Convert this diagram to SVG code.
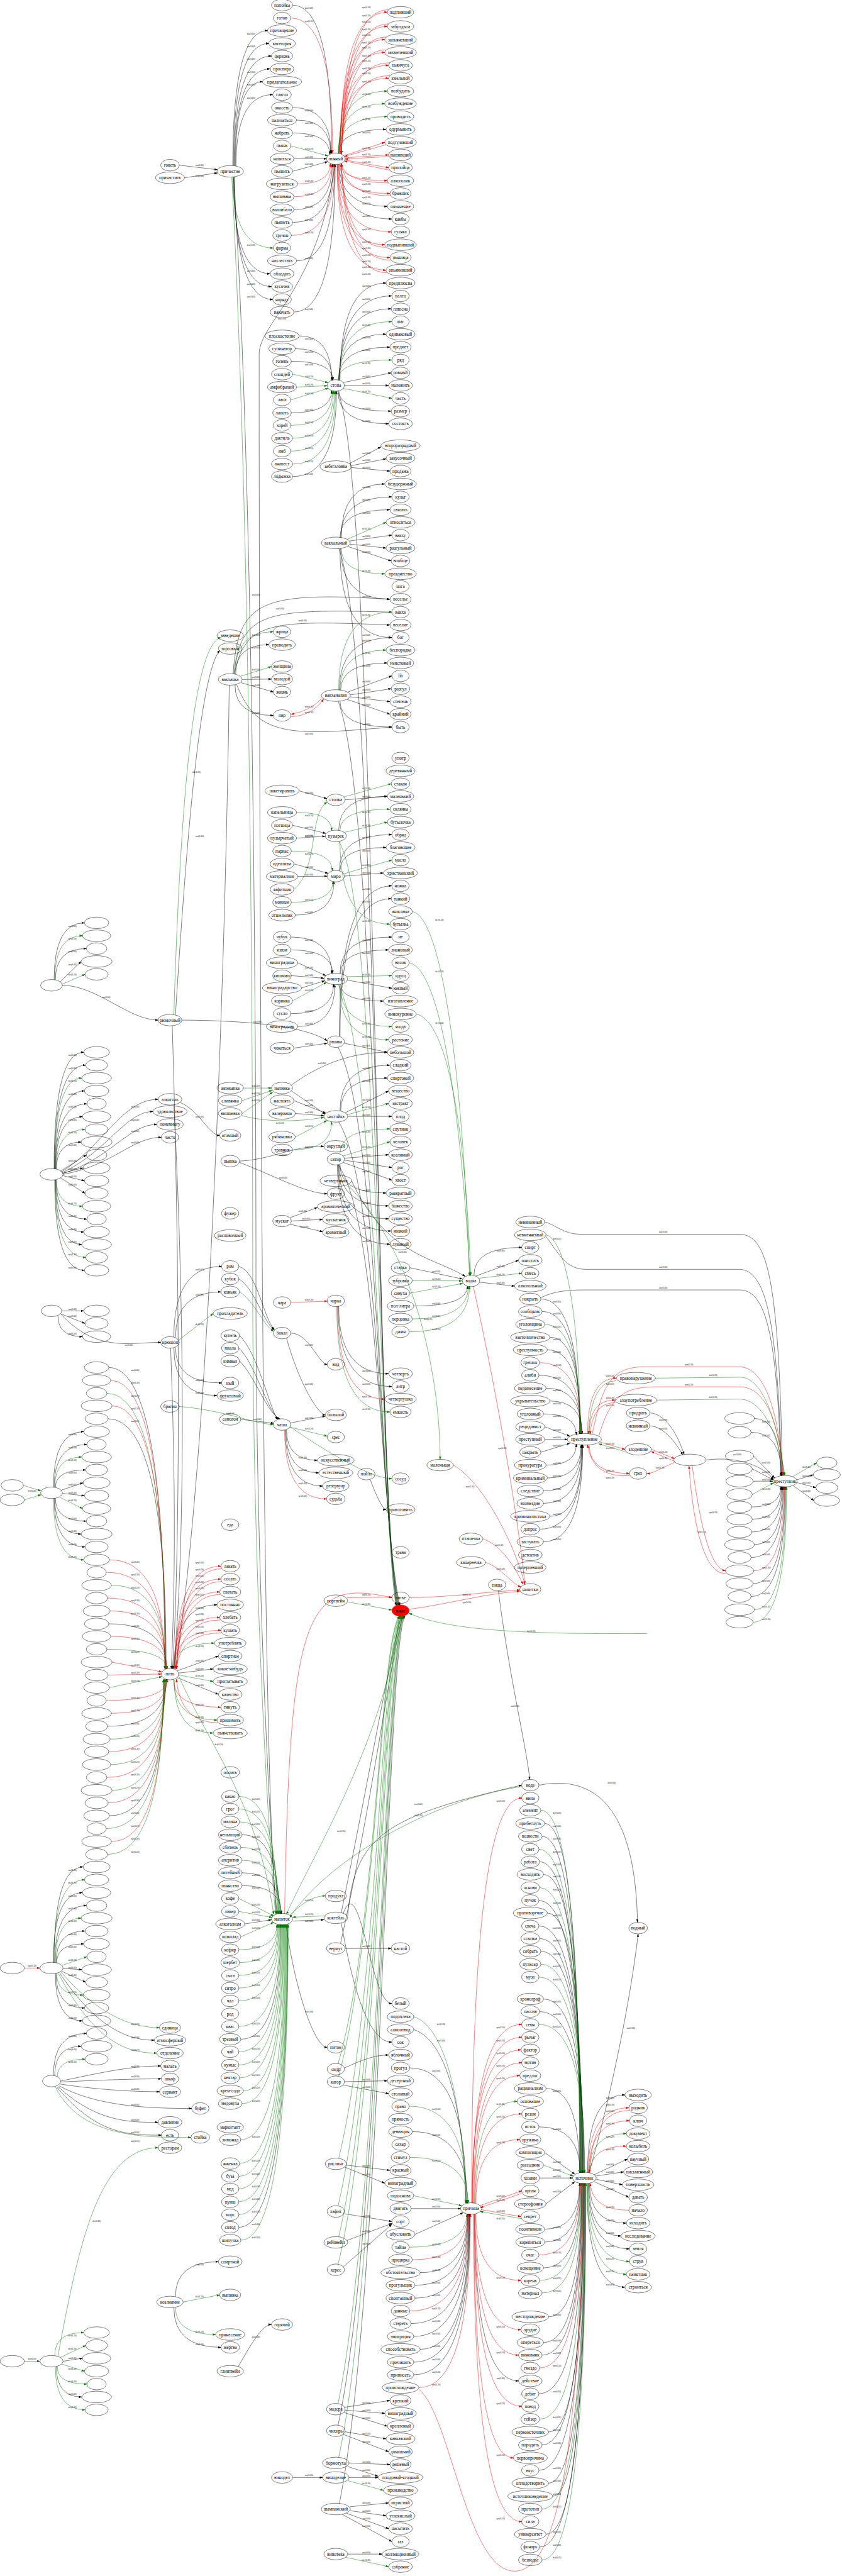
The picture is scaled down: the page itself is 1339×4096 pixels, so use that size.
<svg xmlns="http://www.w3.org/2000/svg" width="1339" height="4096" viewBox="0 0 1339 4096">
<style>
text{font-family:"Liberation Serif","DejaVu Serif",serif}
#nodes ellipse{fill:none;stroke:#000;stroke-width:1}
#nodes text{font-size:14px;text-anchor:middle;fill:#000}
#edges path{fill:none;stroke-width:1}
.k path{stroke:#000;marker-end:url(#mk)}
.r path{stroke:#f00;marker-end:url(#mr)}
.g path{stroke:#008000;marker-end:url(#mg)}
.lb text{font-size:7px;text-anchor:middle;fill:#000}
</style>
<defs>
<marker id="mk" viewBox="0 0 10 7" refX="9" refY="3.5" markerWidth="10" markerHeight="7" markerUnits="userSpaceOnUse" orient="auto"><path d="M0,0L10,3.5L0,7z" fill="#000"/></marker>
<marker id="mr" viewBox="0 0 10 7" refX="9" refY="3.5" markerWidth="10" markerHeight="7" markerUnits="userSpaceOnUse" orient="auto"><path d="M0,0L10,3.5L0,7z" fill="#f00"/></marker>
<marker id="mg" viewBox="0 0 10 7" refX="9" refY="3.5" markerWidth="10" markerHeight="7" markerUnits="userSpaceOnUse" orient="auto"><path d="M0,0L10,3.5L0,7z" fill="#008000"/></marker>
</defs>
<rect width="1339" height="4096" fill="#fff"/>
<g transform="scale(0.512)">
<g id="edges">
<g class="k">
<path d="M557,513L675,527"/><path d="M573,552L675,537"/>
<path d="M723,514Q723,95 831,95"/><path d="M725,514Q725,135 835,135"/><path d="M727,514Q727,174 843,174"/><path d="M729,515Q729,214 839,214"/><path d="M731,515Q731,254 815,254"/><path d="M733,516Q733,294 847,294"/>
<path d="M725,550Q725,850 839,850"/><path d="M727,549Q727,890 843,890"/><path d="M729,549Q729,930 847,930"/>
<path d="M909,16Q1030,16 1030,476"/><path d="M909,334Q1028,334 1028,476"/><path d="M921,373Q1027,373 1027,477"/><path d="M909,413Q1024,413 1024,479"/><path d="M913,493L1014,493"/><path d="M909,532L1018,502"/><path d="M913,651Q1032,651 1032,510"/><path d="M909,691Q1035,691 1035,511"/><path d="M921,810Q1039,810 1039,511"/><path d="M913,969Q1041,969 1041,511"/>
<path d="M1052,477Q1052,402 1199,402"/><path d="M1054,510Q1054,641 1203,641"/><path d="M1052,510Q1052,680 1217,680"/>
<path d="M929,1043Q1030,1043 1030,1181"/><path d="M917,1083Q1032,1083 1032,1181"/><path d="M905,1122Q1034,1122 1034,1181"/><path d="M905,1282Q1030,1282 1030,1213"/><path d="M909,1480Q1045,1480 1045,1215"/>
<path d="M1056,1181Q1056,879 1199,879"/><path d="M1055,1181Q1055,919 1217,919"/><path d="M1054,1181Q1054,959 1215,959"/><path d="M1052,1181Q1052,1038 1199,1038"/><path d="M1051,1181Q1051,1078 1211,1078"/><path d="M1066,1188L1215,1158"/><path d="M1070,1197L1207,1197"/><path d="M1052,1213Q1052,1277 1215,1277"/><path d="M1050,1214Q1050,1316 1207,1316"/>
<path d="M1085,1440L1183,1388"/><path d="M1092,1446L1199,1425"/><path d="M1092,1452L1211,1463"/>
<path d="M1060,1670Q1060,1503 1195,1503"/><path d="M1058,1670Q1058,1543 1217,1543"/><path d="M1056,1670Q1056,1583 1211,1583"/><path d="M1086,1680L1217,1662"/><path d="M1088,1690L1199,1702"/><path d="M1080,1697L1215,1742"/><path d="M1058,1703Q1058,1861 1211,1861"/><path d="M1056,1703Q1056,1980 1217,1980"/>
<path d="M732,2093Q732,2002 835,2002"/><path d="M752,2110L843,2109"/><path d="M748,2120L849,2149"/><path d="M730,2127Q730,2222 849,2222"/>
<path d="M724,2093C740,1870 800,1835 1211,1861"/><path d="M726,2093C750,1900 820,1890 1217,1901"/><path d="M728,2093C760,1930 840,1925 1211,1941"/><path d="M735,2126C800,2290 900,2285 1217,2258"/>
<path d="M1054,2143Q1054,1980 1217,1980"/><path d="M1058,2144Q1058,2059 1203,2059"/><path d="M1078,2150L1217,2099"/><path d="M1088,2158L1215,2139"/><path d="M1088,2164L1211,2179"/><path d="M1078,2172L1211,2218"/><path d="M1056,2177Q1056,2258 1217,2258"/>
<path d="M929,2456L1015,2480"/><path d="M1072,2484L1203,2473"/>
<path d="M909,2563L1012,2588"/><path d="M921,2603L1010,2597"/><path d="M1052,2579Q1052,2473 1203,2473"/>
<path d="M913,2683L1019,2712"/><path d="M925,2722L1016,2721"/><path d="M917,2842Q1037,2842 1037,2738"/><path d="M1054,2704Q1054,2592 1217,2592"/><path d="M1056,2704Q1056,2632 1199,2632"/><path d="M1070,2721L1191,2711"/>
<path d="M903,2910Q1030,2910 1030,3023"/><path d="M903,2950Q1033,2950 1033,3023"/><path d="M925,2990L1012,3030"/><path d="M905,3030L1006,3038"/><path d="M937,3068L1008,3046"/><path d="M903,3148Q1036,3148 1036,3057"/><path d="M925,3188Q1040,3188 1040,3058"/><path d="M1056,3023Q1056,2910 1217,2910"/><path d="M1058,3023Q1058,2950 1207,2950"/><path d="M1080,3044L1217,3069"/><path d="M1058,3057Q1058,3109 1191,3109"/>
<path d="M913,3255L1016,3240"/><path d="M1070,3240L1203,3268"/><path d="M1054,3218Q1054,2751 1217,2751"/><path d="M1056,3218Q1056,2791 1215,2791"/><path d="M565,3168C800,3170 950,3190 1016,3232"/>
<path d="M905,3388L1010,3460"/><path d="M905,3370C1000,3300 1100,3268 1203,3268"/>
<path d="M913,3418L1012,3457"/><path d="M917,3458L1006,3465"/><path d="M1056,3450Q1056,3308 1211,3308"/><path d="M1058,3450Q1058,3348 1203,3348"/><path d="M1072,3456L1207,3388"/><path d="M1080,3467L1217,3467"/>
<path d="M1070,3597L1207,3586"/><path d="M1070,3603L1217,3626"/><path d="M1066,3610L1217,3665"/><path d="M1056,3617Q1056,3705 1199,3705"/><path d="M1054,3617Q1054,3745 1207,3745"/><path d="M1052,3617Q1052,3785 1207,3785"/><path d="M1050,3617Q1050,3823 1215,3823"/><path d="M1048,3617Q1048,3864 1211,3864"/>
<path d="M900,3782L986,3750"/><path d="M905,3792L1002,3787"/><path d="M900,3802L1002,3825"/>
<path d="M744,3606C850,3600 900,3560 1006,3560"/><path d="M744,3610C850,3650 950,3707 1016,3707"/>
<path d="M1273,3937L1436,3972"/><path d="M1285,4056Q1452,4056 1452,3995"/><path d="M1472,3961Q1472,3874 1620,3874"/><path d="M1478,3963L1610,3914"/><path d="M1489,3982L1598,3994"/><path d="M1092,3667C1200,3900 1350,3905 1445,3964"/>
<path d="M1052,4057Q1052,4266 1207,4266"/><path d="M1050,4057Q1050,4306 1217,4306"/>
<path d="M742,3933C800,3950 820,4100 852,4128"/><path d="M742,3972C790,4000 820,4110 852,4130"/><path d="M903,4140C960,4140 990,4237 1016,4237"/><path d="M890,4156C930,4300 990,4394 1010,4394"/>
<path d="M744,4148C800,4200 840,4380 862,4408"/><path d="M742,4187C790,4230 830,4380 866,4407"/><path d="M744,4227C790,4270 830,4390 870,4407"/><path d="M748,4408L850,4420"/><path d="M903,4419L1010,4398"/><path d="M890,4440Q890,4535 986,4535"/><path d="M888,4441Q888,4574 990,4574"/><path d="M886,4441Q886,4615 1002,4615"/>
<path d="M540,4152Q540,3933 688,3933"/><path d="M545,4154Q545,4012 686,4012"/><path d="M545,4185Q545,4295 688,4295"/><path d="M540,4186Q540,4334 674,4334"/>
<path d="M560,3424C620,3450 650,3526 682,3526"/>
<path d="M1680,4034Q1800,4034 1800,4453"/><path d="M1684,4073Q1801,4073 1801,4453"/><path d="M1708,4153Q1803,4153 1803,4453"/><path d="M1700,4192Q1804,4192 1804,4453"/><path d="M1674,4271Q1806,4271 1806,4453"/><path d="M1696,4311Q1807,4311 1807,4453"/><path d="M1708,4351Q1808,4351 1808,4453"/><path d="M1688,4391Q1790,4391 1790,4456"/><path d="M1692,4431L1770,4460"/><path d="M1692,4470L1762,4470"/><path d="M1680,4510L1770,4482"/><path d="M1696,4550Q1790,4550 1790,4485"/><path d="M1700,4590Q1805,4590 1805,4487"/><path d="M1688,4630Q1806,4630 1806,4487"/><path d="M1688,4669Q1807,4669 1807,4487"/><path d="M1708,4709Q1808,4709 1808,4487"/><path d="M1676,4749Q1809,4749 1809,4487"/><path d="M1688,4788Q1810,4788 1810,4487"/>
<path d="M542,5182Q542,4984 674,4984"/><path d="M550,5189L678,5143"/><path d="M555,5196L662,5183"/><path d="M550,5210L678,5262"/>
<path d="M752,5698Q866,5698 866,5943"/><path d="M752,5816Q872,5816 872,5943"/><path d="M752,5856Q874,5856 874,5943"/><path d="M760,5975L843,5962"/><path d="M748,6333Q872,6333 872,5977"/><path d="M742,6917Q894,6917 894,5977"/><path d="M909,5966L1006,5962"/><path d="M888,5977C920,6200 980,6358 1016,6358"/><path d="M1072,6051L1215,6051"/>
<path d="M1548,4940C1580,5200 1640,5450 1645,5526"/><path d="M1674,5544C1900,5500 1975,5700 1980,5970"/>
<path d="M1049,1215C1170,1500 1165,4600 1230,4986"/><path d="M1052,1703C1172,2000 1170,4600 1232,4986"/><path d="M1050,2177C1175,2500 1172,4600 1234,4986"/><path d="M1050,3252C1180,3500 1177,4700 1238,4986"/><path d="M1052,3484C1182,3700 1178,4700 1240,4986"/><path d="M1050,3617C1180,3800 1180,4700 1242,4986"/><path d="M1050,7532C1186,6900 1196,5100 1254,5019"/><path d="M1054,7775C1190,7100 1200,5100 1258,5019"/><path d="M1060,5940C1150,5500 1200,5200 1246,5019"/><path d="M1058,6034C1155,5600 1205,5200 1250,5019"/>
<path d="M1070,6465L1203,6462"/><path d="M1064,6475L1207,6502"/><path d="M1076,6724L1211,6740"/><path d="M1070,6730L1195,6780"/><path d="M1070,6875L1217,6899"/><path d="M1078,6958L1217,6905"/><path d="M1066,7040L1217,6908"/><path d="M1070,7476L1211,7455"/><path d="M1072,7485L1195,7495"/><path d="M1068,7492L1203,7535"/><path d="M1072,7552L1199,7574"/><path d="M1066,7560L1207,7614"/><path d="M1084,7649L1211,7654"/><path d="M1080,7660L1174,7690"/><path d="M1084,7694L1174,7694"/><path d="M909,7694L1002,7694"/><path d="M1086,7785L1207,7773"/><path d="M1086,7797L1199,7813"/><path d="M1076,7805L1207,7853"/><path d="M1062,7808L1217,7893"/><path d="M1080,7932L1187,7932"/>
<path d="M1273,6422Q1448,6422 1448,6842"/><path d="M1281,6620Q1452,6620 1452,6842"/><path d="M1277,6859L1430,6859"/><path d="M1289,6939L1438,6872"/><path d="M1305,7058Q1452,7058 1452,6876"/><path d="M1289,7097Q1453,7097 1453,6876"/><path d="M1289,7137Q1454,7137 1454,6876"/><path d="M1277,7216Q1456,7216 1456,6876"/><path d="M1285,7256Q1457,7256 1457,6876"/><path d="M1305,7296Q1458,7296 1458,6876"/><path d="M1285,7336Q1459,7336 1459,6876"/><path d="M1285,7375Q1460,7375 1460,6876"/><path d="M1474,6876Q1474,7394 1610,7394"/>
<path d="M1696,6486Q1800,6486 1800,6747"/><path d="M1674,6605Q1802,6605 1802,6747"/><path d="M1692,6685L1785,6752"/><path d="M1676,6764L1778,6764"/><path d="M1696,6844L1785,6776"/><path d="M1692,6923Q1800,6923 1800,6781"/><path d="M1692,6963Q1801,6963 1801,6781"/><path d="M1688,7043Q1803,7043 1803,6781"/><path d="M1704,7195Q1806,7195 1806,6781"/><path d="M1688,7275Q1807,7275 1807,6781"/><path d="M1684,7314Q1808,7314 1808,6781"/><path d="M1674,7434Q1810,7434 1810,6781"/><path d="M1704,7553Q1812,7553 1812,6781"/><path d="M1684,7593Q1813,7593 1813,6781"/><path d="M1674,7672Q1814,7672 1814,6781"/><path d="M1704,7712Q1815,7712 1815,6781"/><path d="M1717,7752Q1816,7752 1816,6781"/><path d="M1696,7870Q1818,7870 1818,6781"/><path d="M1676,7910Q1819,7910 1819,6781"/>
<path d="M1692,5663Q1801,5663 1801,6747"/><path d="M1684,5703Q1802,5703 1802,6747"/><path d="M1676,5782Q1804,5782 1804,6747"/><path d="M1688,5821Q1805,5821 1805,6747"/><path d="M1674,5902Q1807,5902 1807,6747"/><path d="M1700,5941Q1808,5941 1808,6747"/><path d="M1674,5981Q1809,5981 1809,6747"/><path d="M1676,6020Q1810,6020 1810,6747"/><path d="M1680,6060Q1811,6060 1811,6747"/><path d="M1688,6208Q1814,6208 1814,6747"/><path d="M1676,6247Q1815,6247 1815,6747"/>
<path d="M1825,6747Q1825,6506 1941,6506"/><path d="M1845,6754L1949,6705"/><path d="M1850,6758L1937,6745"/><path d="M1852,6768L1933,6785"/><path d="M1845,6775L1953,6824"/><path d="M1831,6781Q1831,6904 1945,6904"/><path d="M1829,6781Q1829,6944 1929,6944"/><path d="M1827,6781Q1827,6984 1955,6984"/><path d="M1823,6781Q1823,7103 1941,7103"/>
<path d="M545,7132Q545,7024 678,7024"/><path d="M540,7166Q540,7290 686,7290"/><path d="M740,7350C790,7260 820,7219 843,7219"/>
<path d="M545,3151C580,2600 620,2100 682,2020"/>
<path d="M725,550C770,1200 795,2500 795,4000C795,5000 850,5850 858,5943"/><path d="M862,5943C805,5700 805,1500 805,1100C805,1000 990,900 1040,511"/><path d="M712,2128C700,3000 650,4500 545,5182"/><path d="M535,3186C560,4000 560,4800 536,5182"/><path d="M540,3432C580,4200 570,4900 538,5182"/><path d="M530,4187C545,4600 545,4900 532,5182"/>
<path d="M1080,5950C1100,5700 1200,5640 1620,5544"/><path d="M1830,6747C1900,6500 1960,6200 1982,6006"/><path d="M1060,5972C1100,6200 1150,6342 1217,6342"/><path d="M1070,6422C1120,6400 1160,6382 1207,6382"/><path d="M1285,6303C1400,6340 1442,6600 1447,6842"/><path d="M1150,4595C1170,4650 1190,4688 1199,4688"/><path d="M1066,5942C1120,5800 1150,6222 1217,6222"/>
<path d="M1692,3795C1720,3800 1750,3833 1800,3833L2300,3833C2380,3840 2420,3950 2430,4582"/><path d="M1696,3840C1740,3900 1760,3942 1820,3942L2300,3942C2380,3950 2415,4100 2428,4582"/><path d="M1680,4030C1720,4010 1760,4006 1820,4006L2300,4006C2380,4010 2415,4150 2426,4582"/>
<path d="M2019,4388C2060,4390 2100,4440 2125,4517"/><path d="M2019,4428C2060,4430 2100,4480 2120,4518"/><path d="M2193,4534C2300,4520 2380,4560 2402,4595"/>
<path d="M2343,4405Q2425,4405 2425,4583"/><path d="M2333,4448Q2427,4448 2427,4583"/><path d="M2341,4522L2406,4590"/><path d="M2337,4562L2402,4596"/><path d="M2339,4600L2400,4600"/><path d="M2335,4680Q2425,4680 2425,4617"/><path d="M2337,4718Q2427,4718 2427,4617"/><path d="M2335,4758Q2429,4758 2429,4617"/><path d="M2343,4797Q2431,4797 2431,4617"/><path d="M2333,4837Q2433,4837 2433,4617"/><path d="M2339,4918Q2437,4918 2437,4617"/><path d="M2333,4958Q2439,4958 2439,4617"/>
<path d="M2474,4596L2526,4580"/><path d="M2474,4604L2534,4620"/><path d="M2464,4614L2528,4660"/>
<path d="M168,3043Q168,2866 262,2866"/><path d="M172,3043Q172,2946 268,2946"/><path d="M186,3050L252,2986"/><path d="M194,3060C300,3060 400,3168 491,3168"/>
<path d="M168,3630Q168,3268 260,3268"/><path d="M169,3630Q169,3308 266,3308"/><path d="M171,3630Q171,3388 262,3388"/><path d="M172,3630Q172,3428 270,3428"/><path d="M173,3630Q173,3468 256,3468"/><path d="M175,3631Q175,3547 252,3547"/><path d="M188,3637L268,3587"/><path d="M195,3643L258,3627"/><path d="M195,3651L262,3667"/><path d="M188,3658L264,3706"/><path d="M174,3664Q174,3786 270,3786"/><path d="M173,3664Q173,3826 260,3826"/><path d="M172,3664Q172,3865 254,3865"/><path d="M170,3664Q170,3945 262,3945"/>
<path d="M190,3640C320,3560 380,3414 491,3414"/><path d="M192,3642C330,3580 390,3452 475,3452"/><path d="M194,3645C340,3600 400,3492 487,3492"/><path d="M196,3647C350,3620 410,3532 501,3532"/>
<path d="M192,4071L260,4071"/><path d="M188,4080L264,4110"/><path d="M180,4087Q180,4151 256,4151"/><path d="M190,4082C300,4200 400,4169 499,4169"/>
<path d="M166,4619Q166,4446 260,4446"/><path d="M168,4619Q168,4486 270,4486"/><path d="M172,4620Q172,4565 266,4565"/><path d="M190,4628L258,4605"/><path d="M194,4638L262,4645"/><path d="M172,4653Q172,4724 268,4724"/><path d="M170,4653Q170,4764 252,4764"/><path d="M168,4653Q168,4804 264,4804"/>
<path d="M338,4247Q512,4247 512,5182"/><path d="M336,4406Q516,4406 516,5182"/><path d="M338,5043Q517,5043 517,5182"/><path d="M334,5361Q517,5361 517,5215"/><path d="M340,5639Q510,5639 510,5216"/>
<path d="M168,6095Q168,5798 258,5798"/><path d="M166,6095Q166,5878 256,5878"/><path d="M170,6095Q170,5918 268,5918"/><path d="M174,6095Q174,5997 264,5997"/><path d="M176,6096Q176,6037 260,6037"/><path d="M196,6113L254,6117"/><path d="M192,6122L266,6156"/><path d="M174,6129Q174,6236 262,6236"/><path d="M172,6129Q172,6276 256,6276"/><path d="M186,6128C300,6300 400,6336 479,6336"/>
<path d="M166,6446Q166,6315 268,6315"/><path d="M170,6446Q170,6355 252,6355"/>
<path d="M188,6463C300,6440 400,6416 499,6416"/><path d="M188,6466C300,6460 420,6456 501,6456"/><path d="M186,6472C300,6490 420,6496 495,6496"/><path d="M184,6478C300,6540 450,6548 595,6548"/><path d="M180,6480C300,6590 400,6591 491,6591"/><path d="M176,6481C300,6630 400,6631 501,6631"/>
<path d="M196,7333L256,7324"/><path d="M175,7350Q175,7444 254,7444"/>
</g>
<g class="r">
<path d="M903,56Q1033,56 1033,476"/><path d="M925,571Q1026,571 1026,508"/><path d="M913,611Q1029,611 1029,510"/><path d="M905,731Q1037,731 1037,511"/>
<path d="M1058,477Q1058,38 1203,38"/><path d="M1057,477Q1057,82 1203,82"/><path d="M1056,477Q1056,123 1195,123"/><path d="M1055,477Q1055,163 1195,163"/><path d="M1054,477Q1054,203 1207,203"/><path d="M1053,477Q1053,243 1207,243"/><path d="M1066,484L1195,442"/><path d="M1072,490L1207,481"/><path d="M1072,497L1207,521"/><path d="M1058,509Q1058,561 1203,561"/><path d="M1056,510Q1056,601 1211,601"/><path d="M1050,511Q1050,720 1215,720"/><path d="M1049,511Q1049,760 1195,760"/><path d="M1048,511Q1048,800 1211,800"/><path d="M1047,511Q1047,839 1199,839"/>
<path d="M1207,30Q1073,30 1060,478"/><path d="M1207,74Q1073,74 1060,478"/><path d="M1199,115Q1073,115 1060,478"/><path d="M1199,155Q1073,155 1060,478"/><path d="M1211,195Q1073,195 1060,478"/><path d="M1211,235Q1073,235 1060,478"/><path d="M1197,450L1070,486"/><path d="M1208,486L1072,494"/><path d="M1208,528L1070,500"/><path d="M1205,568Q1073,568 1060,508"/><path d="M1213,608Q1073,608 1060,508"/><path d="M1197,768Q1073,768 1060,508"/><path d="M1213,808Q1073,808 1060,508"/><path d="M1201,847Q1073,847 1060,508"/>
<path d="M1001,2168Q960,2210 904,2218"/><path d="M904,2226Q970,2222 1005,2171"/>
<path d="M903,4045L1016,4041"/><path d="M1048,4057Q1048,4345 1195,4345"/><path d="M884,4441Q884,4655 1014,4655"/>
<path d="M1676,4232Q1805,4232 1805,4453"/><path d="M1825,4453Q1825,4280 1914,4280"/><path d="M1830,4453Q1830,4348 1910,4348"/><path d="M1912,4356Q1840,4356 1833,4454"/><path d="M1862,4478L1941,4501"/><path d="M1830,4487Q1830,4576 1955,4576"/><path d="M1955,4583Q1840,4590 1825,4487"/>
<path d="M545,5182Q545,4864 686,4864"/><path d="M544,5182Q544,4904 686,4904"/><path d="M543,5182Q543,4944 682,4944"/><path d="M541,5182Q541,5023 682,5023"/><path d="M540,5182Q540,5063 686,5063"/><path d="M539,5216Q539,5302 686,5302"/>
<path d="M688,4872Q560,4872 548,5183"/><path d="M688,4912Q560,4912 548,5183"/><path d="M684,4952Q560,4952 548,5183"/><path d="M684,5031Q560,5031 548,5183"/><path d="M688,5071Q560,5071 548,5183"/><path d="M676,5350Q560,5350 548,5215"/>
<path d="M1078,4962L1217,4960"/><path d="M1271,4962C1400,4960 1500,4945 1614,4938"/><path d="M1271,4998C1400,4980 1500,4950 1614,4942"/><path d="M1508,4852C1560,4870 1590,4920 1618,4928"/><path d="M1470,3995C1560,4400 1620,4800 1630,4920"/>
<path d="M1281,7018Q1451,7018 1451,6876"/><path d="M1273,7177Q1455,7177 1455,6876"/><path d="M1301,7415Q1461,7415 1461,6876"/>
<path d="M1470,6842Q1470,6406 1620,6406"/><path d="M1472,6842Q1472,6446 1614,6446"/><path d="M1476,6842Q1476,6565 1620,6565"/><path d="M1478,6842Q1478,6645 1614,6645"/><path d="M1490,6850L1620,6804"/><path d="M1620,6812L1492,6856"/><path d="M1494,6862L1618,6884"/><path d="M1478,6876Q1478,7082 1618,7082"/><path d="M1476,6876Q1476,7235 1618,7235"/><path d="M1475,6876Q1475,7314 1610,7314"/><path d="M1473,6876Q1473,7473 1620,7473"/><path d="M1472,6876Q1472,7633 1594,7633"/><path d="M1471,6876Q1471,7831 1620,7831"/><path d="M1468,6842Q1468,6287 1620,6287"/><path d="M1467,6842Q1467,6327 1620,6327"/><path d="M1466,6842Q1466,6366 1618,6366"/><path d="M1465,6842Q1465,5584 1620,5584"/>
<path d="M1301,7420C1400,7500 1450,7990 1600,7985C1750,7980 1800,7500 1812,6782"/>
<path d="M1674,7003Q1802,7003 1802,6781"/><path d="M1676,7354Q1809,7354 1809,6781"/><path d="M1827,6747Q1827,6546 1953,6546"/><path d="M1953,6554Q1840,6554 1830,6748"/><path d="M1829,6747Q1829,6586 1955,6586"/><path d="M1833,6748Q1833,6665 1945,6665"/><path d="M1953,6864Q1840,6864 1833,6781"/>
<path d="M884,5943C900,5000 950,4900 1217,4962"/><path d="M1408,4550C1500,4600 1600,4800 1630,4920"/><path d="M1500,4779C1560,4800 1600,4870 1625,4920"/>
<path d="M1840,4453C1870,4300 1900,4245 2000,4245L2300,4245C2380,4250 2420,4400 2432,4582"/><path d="M1860,4460C1900,4320 1950,4307 2050,4307L2300,4307C2380,4310 2420,4420 2434,4582"/>
<path d="M2023,4501L2095,4530"/><path d="M2095,4538L2023,4508"/><path d="M2095,4542C2050,4560 2030,4576 2009,4576"/><path d="M2150,4552C2170,4700 2200,4870 2253,4878"/><path d="M2253,4886C2180,4890 2150,4700 2140,4553"/><path d="M2341,4878Q2435,4878 2435,4617"/>
<path d="M344,4287Q513,4287 513,5182"/><path d="M348,4366Q515,4366 515,5182"/><path d="M340,4844Q512,4844 512,5182"/><path d="M330,4883Q513,4883 513,5182"/><path d="M334,4963Q515,4963 515,5182"/><path d="M342,5003Q516,5003 516,5182"/><path d="M344,5082Q518,5082 518,5183"/><path d="M348,5162L502,5192"/><path d="M336,5202L501,5199"/><path d="M330,5281Q519,5281 519,5215"/><path d="M346,5321Q518,5321 518,5215"/><path d="M338,5440Q515,5440 515,5216"/><path d="M332,5520Q513,5520 513,5216"/><path d="M336,5599Q511,5599 511,5216"/><path d="M346,5719Q508,5719 508,5216"/>
<path d="M76,6112L124,6112"/>
</g>
<g class="g">
<path d="M723,550Q723,770 849,770"/><path d="M903,453L1018,484"/>
<path d="M1052,477Q1052,283 1203,283"/><path d="M1051,477Q1051,322 1195,322"/><path d="M1050,477Q1050,362 1203,362"/>
<path d="M909,1162L1019,1188"/><path d="M921,1202L1016,1198"/><path d="M903,1242L1019,1206"/><path d="M903,1321Q1033,1321 1033,1214"/><path d="M909,1361Q1036,1361 1036,1214"/><path d="M903,1401Q1039,1401 1039,1215"/><path d="M909,1441Q1042,1441 1042,1215"/><path d="M1053,1181Q1053,999 1217,999"/><path d="M1050,1181Q1050,1118 1217,1118"/><path d="M1066,1206L1217,1237"/>
<path d="M1078,1675L1199,1622"/><path d="M1060,1702Q1060,1782 1195,1782"/>
<path d="M730,2093Q730,1962 849,1962"/><path d="M748,2100L843,2070"/>
<path d="M1052,2143Q1052,1901 1217,1901"/><path d="M1056,2144Q1056,2019 1199,2019"/>
<path d="M1068,2475L1215,2434"/><path d="M913,2762C990,2700 960,2520 1016,2492"/>
<path d="M921,2523Q1030,2523 1030,2579"/><path d="M1056,2579Q1056,2513 1211,2513"/><path d="M1070,2585L1203,2553"/><path d="M1056,2613Q1056,2870 1211,2870"/>
<path d="M905,2643Q1032,2643 1032,2704"/><path d="M905,2802Q1034,2802 1034,2738"/><path d="M1066,2714L1217,2671"/>
<path d="M909,3108L1014,3051"/><path d="M1078,3033L1217,3030"/><path d="M1056,3057Q1056,3188 1217,3188"/><path d="M1054,3058Q1054,3229 1207,3229"/>
<path d="M1281,2831C1380,2850 1440,3400 1458,3961"/><path d="M1271,2990C1370,3010 1430,3450 1460,3961"/><path d="M1293,3149C1390,3170 1445,3500 1462,3961"/>
<path d="M756,3379L843,3379"/><path d="M752,3418L845,3386"/><path d="M752,3458L847,3392"/><path d="M752,3465C850,3490 950,3480 1006,3470"/>
<path d="M917,3531L1015,3480"/><path d="M909,3571Q1030,3571 1030,3484"/><path d="M1078,3462L1207,3427"/>
<path d="M1056,3583Q1056,3506 1211,3506"/><path d="M1066,3590L1211,3546"/>
<path d="M1281,3977L1435,3978"/><path d="M1273,4016L1437,3986"/><path d="M1281,4096Q1455,4096 1455,3995"/><path d="M1271,4136Q1458,4136 1458,3995"/><path d="M1486,3970L1620,3954"/>
<path d="M1046,4057Q1046,4385 1211,4385"/><path d="M744,4012C790,4040 820,4120 850,4134"/>
<path d="M557,4368C700,4380 780,4420 849,4424"/><path d="M900,4432L1016,4460"/><path d="M555,4162L662,4079"/>
<path d="M1692,4113Q1802,4113 1802,4453"/><path d="M1696,3835C1760,3850 1800,4100 1802,4453"/><path d="M1914,4288Q1835,4288 1828,4453"/><path d="M1941,4508L1860,4484"/>
<path d="M539,5182Q539,5103 666,5103"/><path d="M555,5202L662,5222"/><path d="M540,5216Q540,5342 674,5342"/><path d="M541,5216Q541,5382 662,5382"/>
<path d="M742,5579Q860,5579 860,5943"/><path d="M742,5618Q862,5618 862,5943"/><path d="M744,5658Q864,5658 864,5943"/><path d="M748,5737Q868,5737 868,5943"/><path d="M752,5777Q870,5777 870,5943"/><path d="M742,5896L850,5950"/><path d="M742,5936L845,5955"/><path d="M748,6015L850,5970"/>
<path d="M742,6055Q860,6055 860,5977"/><path d="M744,6095Q862,6095 862,5977"/><path d="M742,6135Q864,6135 864,5977"/><path d="M742,6174Q866,6174 866,5977"/><path d="M742,6214Q868,6214 868,5977"/><path d="M742,6293Q870,6293 870,5977"/><path d="M742,6372Q874,6372 874,5977"/><path d="M742,6413Q876,6413 876,5977"/><path d="M744,6453Q878,6453 878,5977"/><path d="M756,6493Q880,6493 880,5977"/><path d="M752,6533Q882,6533 882,5977"/><path d="M748,6645Q884,6645 884,5977"/><path d="M744,6719Q886,6719 886,5977"/><path d="M742,6759Q888,6759 888,5977"/><path d="M742,6798Q890,6798 890,5977"/><path d="M742,6838Q892,6838 892,5977"/><path d="M742,6878Q893,6878 893,5977"/><path d="M748,6957Q895,6957 895,5977"/>
<path d="M900,5948C950,5900 980,5888 1010,5888"/><path d="M1006,5950L909,5954"/>
<path d="M1080,4975L1217,5000"/>
<path d="M1050,3057C1178,3300 1175,4700 1236,4986"/><path d="M1052,2613C1176,2800 1173,4650 1235,4986"/><path d="M1050,6409C1170,6000 1180,5100 1240,5019"/><path d="M1052,6448C1172,6000 1182,5100 1242,5019"/><path d="M1052,6703C1175,6200 1185,5100 1244,5019"/><path d="M1050,6851C1178,6300 1188,5100 1246,5019"/><path d="M1052,6947C1180,6400 1190,5100 1248,5019"/><path d="M1050,7032C1182,6500 1192,5100 1250,5019"/><path d="M1050,7465C1184,6800 1194,5100 1252,5019"/><path d="M1052,7632C1188,7000 1198,5100 1256,5019"/><path d="M2010,5073C1700,5075 1400,5070 1271,5010"/>
<path d="M1080,7704L1191,7734"/><path d="M1074,7942L1207,7971"/>
<path d="M1271,6541Q1450,6541 1450,6842"/><path d="M1273,6700Q1454,6700 1454,6842"/><path d="M1285,6819L1434,6850"/><path d="M1271,6979Q1450,6979 1450,6876"/><path d="M1474,6842Q1474,6526 1606,6526"/><path d="M1618,6890L1492,6868"/>
<path d="M1688,6724L1780,6758"/><path d="M1676,7082Q1804,7082 1804,6781"/><path d="M1684,7121Q1805,7121 1805,6781"/><path d="M1676,7513Q1811,7513 1811,6781"/><path d="M1684,7792Q1817,7792 1817,6781"/><path d="M1684,7950Q1820,7950 1820,6781"/>
<path d="M1680,5622Q1800,5622 1800,6747"/><path d="M1674,5743Q1803,5743 1803,6747"/><path d="M1676,5862Q1806,5862 1806,6747"/><path d="M1680,6100Q1812,6100 1812,6747"/><path d="M1674,6140Q1813,6140 1813,6747"/><path d="M1674,6287Q1816,6287 1816,6747"/>
<path d="M1831,6747Q1831,6626 1945,6626"/><path d="M1825,6781Q1825,7023 1955,7023"/><path d="M1824,6781Q1824,7063 1945,7063"/>
<path d="M569,7149L682,7127"/><path d="M545,7166Q545,7250 670,7250"/>
<path d="M540,3151C560,2500 600,2000 686,1980"/>
<path d="M720,550C760,1300 785,2500 785,4000C785,5000 845,5850 856,5943"/><path d="M555,5205C650,5420 800,5600 850,5945"/><path d="M1240,5020C1200,5400 950,5800 890,5945"/><path d="M1620,5548C1300,5600 1000,5800 900,5955"/><path d="M1285,6263C1400,6300 1440,6600 1446,6842"/><path d="M900,4430C1000,4500 1150,4592 1217,4592"/><path d="M1080,3680C1300,3900 1367,4300 1367,4532"/>
<path d="M2036,4280L2300,4277C2380,4280 2420,4450 2436,4582"/><path d="M2040,4348L2300,4345C2380,4350 2420,4480 2438,4582"/>
<path d="M2337,4641L2402,4605"/><path d="M2343,4999Q2441,4999 2441,4617"/><path d="M2339,5038Q2443,5038 2443,4617"/><path d="M2462,4586L2536,4543"/>
<path d="M170,3043Q170,2906 256,2906"/><path d="M192,3057L264,3026"/>
<path d="M170,3630Q170,3348 254,3348"/><path d="M174,3630Q174,3508 264,3508"/><path d="M175,3664Q175,3746 256,3746"/><path d="M171,3664Q171,3905 266,3905"/>
<path d="M73,4613L127,4630"/><path d="M76,4658L127,4642"/><path d="M170,4619Q170,4525 254,4525"/><path d="M186,4650L256,4685"/><path d="M166,4653Q166,4844 260,4844"/>
<path d="M332,4327Q514,4327 514,5182"/><path d="M346,4923Q514,4923 514,5182"/><path d="M332,5122Q519,5122 519,5184"/><path d="M340,5241L503,5207"/><path d="M342,5401Q516,5401 516,5216"/><path d="M344,5480Q514,5480 514,5216"/><path d="M348,5560Q512,5560 512,5216"/><path d="M330,5679Q509,5679 509,5216"/><path d="M334,5759Q507,5759 507,5216"/>
<path d="M167,6095Q167,5838 262,5838"/><path d="M172,6095Q172,5957 252,5957"/><path d="M192,6104L270,6077"/><path d="M176,6129Q176,6196 258,6196"/><path d="M190,6125C300,6250 400,6297 495,6297"/><path d="M182,6130C300,6350 400,6376 487,6376"/><path d="M178,6450Q178,6395 264,6395"/><path d="M172,6481C250,6640 450,6638 593,6638"/>
<path d="M76,7333L124,7333"/><path d="M170,7316Q170,7244 260,7244"/><path d="M186,7322L266,7284"/><path d="M192,7342L262,7364"/><path d="M178,7350Q178,7404 270,7404"/><path d="M172,7350Q172,7484 264,7484"/><path d="M180,7316C240,7000 300,6670 491,6670"/>
</g>
</g>
<g class="lb">
<text x="620" y="515">ass(0.60)</text><text x="620" y="548">ass(0.60)</text>
<text x="780" y="107">ass(0.60)</text><text x="780" y="147">ass(0.60)</text><text x="780" y="186">ass(0.60)</text><text x="780" y="226">ass(0.60)</text><text x="780" y="266">ass(0.60)</text><text x="780" y="306">ass(0.60)</text><text x="780" y="764">def(0.20)</text><text x="780" y="844">ass(0.60)</text><text x="780" y="884">ass(0.60)</text><text x="780" y="924">ass(0.60)</text>
<text x="960" y="28">ass(0.60)</text><text x="960" y="68">syn(0.30)</text><text x="960" y="346">ass(0.60)</text><text x="960" y="385">ass(0.60)</text><text x="960" y="425">ass(0.60)</text><text x="960" y="465">def(0.20)</text><text x="960" y="490">ass(0.60)</text><text x="960" y="512">ass(0.60)</text><text x="960" y="565">syn(0.30)</text><text x="960" y="605">syn(0.30)</text><text x="960" y="645">ass(0.60)</text><text x="960" y="685">ass(0.60)</text><text x="960" y="725">syn(0.30)</text><text x="960" y="804">ass(0.60)</text><text x="960" y="963">ass(0.60)</text><text x="876" y="992">ass(0.60)</text>
<text x="1138" y="50">syn(0.30)</text><text x="1138" y="94">syn(0.30)</text><text x="1138" y="135">syn(0.30)</text><text x="1138" y="175">syn(0.30)</text><text x="1138" y="215">syn(0.30)</text><text x="1138" y="255">syn(0.30)</text><text x="1138" y="295">def(0.20)</text><text x="1138" y="334">def(0.20)</text><text x="1138" y="374">def(0.20)</text><text x="1138" y="414">ass(0.60)</text><text x="1138" y="462">syn(0.30)</text><text x="1138" y="483">syn(0.30)</text><text x="1138" y="506">syn(0.30)</text><text x="1138" y="555">syn(0.30)</text><text x="1138" y="595">syn(0.30)</text><text x="1138" y="635">ass(0.60)</text><text x="1138" y="674">ass(0.60)</text><text x="1138" y="714">syn(0.30)</text><text x="1138" y="754">syn(0.30)</text><text x="1138" y="794">syn(0.30)</text><text x="1138" y="833">syn(0.30)</text>
<text x="1138" y="26">syn(0.30)</text><text x="1138" y="70">syn(0.30)</text><text x="1138" y="111">syn(0.30)</text><text x="1138" y="151">syn(0.30)</text><text x="1138" y="191">syn(0.30)</text><text x="1138" y="231">syn(0.30)</text><text x="1138" y="575">syn(0.30)</text><text x="1138" y="615">syn(0.30)</text><text x="1138" y="774">syn(0.30)</text><text x="1138" y="814">syn(0.30)</text><text x="1138" y="853">syn(0.30)</text>
<text x="960" y="1055">ass(0.60)</text><text x="960" y="1095">ass(0.60)</text><text x="960" y="1134">ass(0.60)</text><text x="960" y="1172">def(0.20)</text><text x="960" y="1197">def(0.20)</text><text x="960" y="1225">def(0.20)</text><text x="960" y="1276">ass(0.60)</text><text x="960" y="1315">def(0.20)</text><text x="960" y="1355">def(0.20)</text><text x="960" y="1395">def(0.20)</text><text x="960" y="1435">def(0.20)</text><text x="960" y="1474">ass(0.60)</text>
<text x="1138" y="891">ass(0.60)</text><text x="1138" y="931">ass(0.60)</text><text x="1138" y="971">ass(0.60)</text><text x="1138" y="1011">def(0.20)</text><text x="1138" y="1050">ass(0.60)</text><text x="1138" y="1090">ass(0.60)</text><text x="1138" y="1130">def(0.20)</text><text x="1138" y="1172">ass(0.60)</text><text x="1138" y="1194">ass(0.60)</text><text x="1138" y="1218">def(0.20)</text><text x="1138" y="1271">ass(0.60)</text><text x="1138" y="1310">ass(0.60)</text>
<text x="1138" y="1410">ass(0.60)</text><text x="1138" y="1432">ass(0.60)</text><text x="1138" y="1455">ass(0.60)</text>
<text x="1138" y="1515">ass(0.60)</text><text x="1138" y="1555">ass(0.60)</text><text x="1138" y="1595">ass(0.60)</text><text x="1138" y="1645">def(0.20)</text><text x="1138" y="1668">ass(0.60)</text><text x="1138" y="1693">ass(0.60)</text><text x="1138" y="1717">ass(0.60)</text><text x="1138" y="1776">def(0.20)</text><text x="1138" y="1855">ass(0.60)</text><text x="1138" y="1974">ass(0.60)</text>
<text x="795" y="1974">def(0.20)</text><text x="795" y="2014">ass(0.60)</text><text x="795" y="2082">def(0.20)</text><text x="795" y="2106">ass(0.60)</text><text x="795" y="2131">ass(0.60)</text><text x="795" y="2216">ass(0.60)</text><text x="795" y="1850">ass(0.60)</text><text x="870" y="1893">ass(0.60)</text><text x="940" y="1930">ass(0.60)</text><text x="960" y="2282">ass(0.60)</text>
<text x="960" y="2198">syn(0.30)</text><text x="960" y="2214">syn(0.30)</text><text x="1138" y="1913">def(0.20)</text><text x="1138" y="1992">ass(0.60)</text><text x="1138" y="2031">def(0.20)</text><text x="1138" y="2071">ass(0.60)</text><text x="1138" y="2120">ass(0.60)</text><text x="1138" y="2145">ass(0.60)</text><text x="1138" y="2168">ass(0.60)</text><text x="1138" y="2192">ass(0.60)</text><text x="1138" y="2252">ass(0.60)</text>
<text x="960" y="2465">ass(0.60)</text><text x="1138" y="2452">def(0.20)</text><text x="1138" y="2476">ass(0.60)</text><text x="960" y="2600">def(0.20)</text>
<text x="960" y="2535">def(0.20)</text><text x="960" y="2572">ass(0.60)</text><text x="960" y="2598">ass(0.60)</text><text x="1138" y="2525">def(0.20)</text><text x="1138" y="2566">def(0.20)</text><text x="1138" y="2864">def(0.20)</text>
<text x="960" y="2655">def(0.20)</text><text x="960" y="2695">ass(0.60)</text><text x="960" y="2719">ass(0.60)</text><text x="960" y="2796">def(0.20)</text><text x="960" y="2836">ass(0.60)</text><text x="1138" y="2604">ass(0.60)</text><text x="1138" y="2644">ass(0.60)</text><text x="1138" y="2690">def(0.20)</text><text x="1138" y="2713">ass(0.60)</text>
<text x="960" y="2922">ass(0.60)</text><text x="960" y="2962">ass(0.60)</text><text x="960" y="3008">ass(0.60)</text><text x="960" y="3031">ass(0.60)</text><text x="960" y="3054">ass(0.60)</text><text x="960" y="3078">def(0.20)</text><text x="960" y="3142">ass(0.60)</text><text x="960" y="3182">ass(0.60)</text><text x="1138" y="2922">ass(0.60)</text><text x="1138" y="2962">ass(0.60)</text><text x="1138" y="3029">def(0.20)</text><text x="1138" y="3053">ass(0.60)</text><text x="1138" y="3103">ass(0.60)</text><text x="1138" y="3182">def(0.20)</text><text x="1138" y="3223">def(0.20)</text>
<text x="1365" y="2860">def(0.20)</text><text x="1365" y="3020">def(0.20)</text><text x="1365" y="3180">def(0.20)</text>
<text x="960" y="3245">ass(0.60)</text><text x="1138" y="3250">ass(0.60)</text><text x="1138" y="2763">ass(0.60)</text><text x="1138" y="2803">ass(0.60)</text><text x="800" y="3175">ass(0.60)</text>
<text x="795" y="3375">def(0.20)</text><text x="795" y="3398">def(0.20)</text><text x="795" y="3420">def(0.20)</text><text x="960" y="3420">ass(0.60)</text><text x="1000" y="3305">ass(0.60)</text><text x="870" y="3490">def(0.20)</text>
<text x="960" y="3435">ass(0.60)</text><text x="960" y="3458">ass(0.60)</text><text x="960" y="3500">def(0.20)</text><text x="960" y="3565">def(0.20)</text><text x="1138" y="3320">ass(0.60)</text><text x="1138" y="3360">ass(0.60)</text><text x="1138" y="3418">ass(0.60)</text><text x="1138" y="3442">def(0.20)</text><text x="1138" y="3464">ass(0.60)</text>
<text x="1138" y="3518">def(0.20)</text><text x="1138" y="3565">def(0.20)</text><text x="1138" y="3590">ass(0.60)</text><text x="1138" y="3614">ass(0.60)</text><text x="1138" y="3640">ass(0.60)</text><text x="1138" y="3699">ass(0.60)</text><text x="1138" y="3739">ass(0.60)</text><text x="1138" y="3779">ass(0.60)</text><text x="1138" y="3817">ass(0.60)</text><text x="1138" y="3858">ass(0.60)</text>
<text x="940" y="3764">ass(0.60)</text><text x="950" y="3787">ass(0.60)</text><text x="945" y="3812">ass(0.60)</text><text x="880" y="3590">ass(0.60)</text><text x="880" y="3660">ass(0.60)</text>
<text x="1355" y="3952">ass(0.60)</text><text x="1355" y="3975">def(0.20)</text><text x="1355" y="3998">def(0.20)</text><text x="1355" y="4050">ass(0.60)</text><text x="1355" y="4090">def(0.20)</text><text x="1355" y="4130">def(0.20)</text><text x="1555" y="3886">ass(0.60)</text><text x="1555" y="3935">ass(0.60)</text><text x="1555" y="3960">def(0.20)</text><text x="1555" y="3986">ass(0.60)</text><text x="1250" y="3890">ass(0.60)</text>
<text x="960" y="4040">syn(0.30)</text><text x="1138" y="4260">ass(0.60)</text><text x="1138" y="4300">ass(0.60)</text><text x="1138" y="4339">syn(0.30)</text><text x="1138" y="4379">def(0.20)</text>
<text x="960" y="4180">ass(0.60)</text><text x="960" y="4300">ass(0.60)</text><text x="960" y="4406">ass(0.60)</text><text x="960" y="4440">def(0.20)</text><text x="940" y="4529">ass(0.60)</text><text x="940" y="4568">ass(0.60)</text><text x="940" y="4609">ass(0.60)</text><text x="940" y="4649">syn(0.30)</text><text x="715" y="4392">def(0.20)</text><text x="800" y="4410">ass(0.60)</text>
<text x="620" y="3945">ass(0.60)</text><text x="620" y="4024">ass(0.60)</text><text x="620" y="4115">def(0.20)</text><text x="620" y="4289">ass(0.60)</text><text x="620" y="4328">ass(0.60)</text><text x="620" y="3470">ass(0.60)</text>
<text x="1730" y="4044">ass(0.60)</text><text x="1730" y="4083">ass(0.60)</text><text x="1730" y="4123">def(0.20)</text><text x="1730" y="4163">ass(0.60)</text><text x="1730" y="4202">ass(0.60)</text><text x="1730" y="4242">syn(0.30)</text><text x="1730" y="4281">ass(0.60)</text><text x="1730" y="4321">ass(0.60)</text><text x="1730" y="4361">ass(0.60)</text><text x="1730" y="4401">ass(0.60)</text><text x="1730" y="4443">ass(0.60)</text><text x="1730" y="4467">ass(0.60)</text><text x="1730" y="4492">ass(0.60)</text><text x="1730" y="4546">ass(0.60)</text><text x="1730" y="4586">ass(0.60)</text><text x="1730" y="4626">ass(0.60)</text><text x="1730" y="4665">ass(0.60)</text><text x="1730" y="4705">ass(0.60)</text><text x="1730" y="4745">ass(0.60)</text><text x="1730" y="4784">ass(0.60)</text><text x="1730" y="3850">def(0.20)</text>
<text x="1895" y="4275">syn(0.30)</text><text x="1895" y="4300">def(0.20)</text><text x="1895" y="4343">syn(0.30)</text><text x="1895" y="4368">syn(0.30)</text><text x="1895" y="4486">syn(0.30)</text><text x="1895" y="4500">def(0.20)</text><text x="1895" y="4570">syn(0.30)</text><text x="1895" y="4592">syn(0.30)</text>
<text x="2060" y="3829">ass(0.60)</text><text x="2060" y="3938">ass(0.60)</text><text x="2060" y="4002">ass(0.60)</text><text x="2140" y="4241">syn(0.30)</text><text x="2140" y="4303">syn(0.30)</text><text x="2215" y="4273">def(0.20)</text><text x="2215" y="4341">def(0.20)</text><text x="2060" y="4412">ass(0.60)</text><text x="2060" y="4440">ass(0.60)</text><text x="2060" y="4512">syn(0.30)</text><text x="2060" y="4532">syn(0.30)</text><text x="2050" y="4560">syn(0.30)</text><text x="2290" y="4520">ass(0.60)</text><text x="2215" y="4700">syn(0.30)</text><text x="2180" y="4760">syn(0.30)</text>
<text x="2380" y="4417">ass(0.60)</text><text x="2380" y="4460">ass(0.60)</text><text x="2380" y="4545">ass(0.60)</text><text x="2380" y="4574">ass(0.60)</text><text x="2380" y="4597">ass(0.60)</text><text x="2380" y="4626">def(0.20)</text><text x="2380" y="4674">ass(0.60)</text><text x="2380" y="4712">ass(0.60)</text><text x="2380" y="4752">ass(0.60)</text><text x="2380" y="4791">ass(0.60)</text><text x="2380" y="4831">ass(0.60)</text><text x="2380" y="4872">syn(0.30)</text><text x="2380" y="4912">ass(0.60)</text><text x="2380" y="4952">ass(0.60)</text><text x="2380" y="4993">def(0.20)</text><text x="2380" y="5032">def(0.20)</text>
<text x="2505" y="4558">def(0.20)</text><text x="2505" y="4585">ass(0.60)</text><text x="2505" y="4608">ass(0.60)</text><text x="2505" y="4632">ass(0.60)</text>
<text x="620" y="4876">syn(0.30)</text><text x="620" y="4916">syn(0.30)</text><text x="620" y="4956">syn(0.30)</text><text x="620" y="4996">ass(0.60)</text><text x="620" y="5035">syn(0.30)</text><text x="620" y="5075">syn(0.30)</text><text x="620" y="5115">def(0.20)</text><text x="620" y="5160">ass(0.60)</text><text x="620" y="5186">ass(0.60)</text><text x="620" y="5208">def(0.20)</text><text x="620" y="5236">ass(0.60)</text><text x="620" y="5296">syn(0.30)</text><text x="620" y="5336">def(0.20)</text><text x="620" y="5376">def(0.20)</text>
<text x="620" y="4856">syn(0.30)</text><text x="620" y="4896">syn(0.30)</text><text x="620" y="4936">syn(0.30)</text><text x="620" y="5015">syn(0.30)</text><text x="620" y="5055">syn(0.30)</text><text x="620" y="5352">syn(0.30)</text>
<text x="795" y="5589">def(0.20)</text><text x="795" y="5628">def(0.20)</text><text x="795" y="5668">def(0.20)</text><text x="795" y="5708">ass(0.60)</text><text x="795" y="5747">def(0.20)</text><text x="795" y="5787">def(0.20)</text><text x="795" y="5826">ass(0.60)</text><text x="795" y="5866">ass(0.60)</text><text x="795" y="5918">def(0.20)</text><text x="795" y="5942">def(0.20)</text><text x="795" y="5965">ass(0.60)</text><text x="795" y="5990">def(0.20)</text>
<text x="795" y="6049">def(0.20)</text><text x="795" y="6089">def(0.20)</text><text x="795" y="6129">def(0.20)</text><text x="795" y="6168">def(0.20)</text><text x="795" y="6208">def(0.20)</text><text x="795" y="6287">def(0.20)</text><text x="795" y="6327">ass(0.60)</text><text x="795" y="6366">def(0.20)</text><text x="795" y="6407">def(0.20)</text><text x="795" y="6447">def(0.20)</text><text x="795" y="6487">def(0.20)</text><text x="795" y="6527">def(0.20)</text><text x="795" y="6639">def(0.20)</text><text x="795" y="6713">def(0.20)</text><text x="795" y="6753">def(0.20)</text><text x="795" y="6792">def(0.20)</text><text x="795" y="6832">def(0.20)</text><text x="795" y="6872">def(0.20)</text><text x="795" y="6911">ass(0.60)</text><text x="795" y="6951">def(0.20)</text>
<text x="960" y="5905">def(0.20)</text><text x="960" y="5948">def(0.20)</text><text x="960" y="5968">ass(0.60)</text><text x="960" y="6250">ass(0.60)</text><text x="1138" y="6046">ass(0.60)</text><text x="680" y="5420">def(0.20)</text><text x="1060" y="5690">def(0.20)</text><text x="1300" y="5640">def(0.20)</text><text x="1300" y="5605">ass(0.60)</text>
<text x="1138" y="4985">def(0.20)</text><text x="1138" y="4955">syn(0.30)</text><text x="1450" y="4955">syn(0.30)</text><text x="1450" y="4978">syn(0.30)</text><text x="1555" y="4875">syn(0.30)</text><text x="1560" y="4500">syn(0.30)</text><text x="1600" y="5300">ass(0.60)</text><text x="1900" y="5540">ass(0.60)</text><text x="1650" y="5068">def(0.20)</text><text x="1460" y="4620">syn(0.30)</text><text x="1550" y="4800">syn(0.30)</text><text x="1330" y="4100">def(0.20)</text>
<text x="1138" y="6460">ass(0.60)</text><text x="1138" y="6485">ass(0.60)</text><text x="1138" y="6729">ass(0.60)</text><text x="1138" y="6755">ass(0.60)</text><text x="1138" y="6884">ass(0.60)</text><text x="1138" y="6932">ass(0.60)</text><text x="1138" y="6970">ass(0.60)</text><text x="1138" y="7464">ass(0.60)</text><text x="1138" y="7488">ass(0.60)</text><text x="1138" y="7512">ass(0.60)</text><text x="1138" y="7560">ass(0.60)</text><text x="1138" y="7585">ass(0.60)</text><text x="1138" y="7648">ass(0.60)</text><text x="1138" y="7673">ass(0.60)</text><text x="1138" y="7691">ass(0.60)</text><text x="1138" y="7715">def(0.20)</text><text x="960" y="7690">ass(0.60)</text><text x="1138" y="7776">ass(0.60)</text><text x="1138" y="7800">ass(0.60)</text><text x="1138" y="7824">ass(0.60)</text><text x="1138" y="7848">ass(0.60)</text><text x="1138" y="7929">ass(0.60)</text><text x="1138" y="7953">def(0.20)</text>
<text x="1355" y="6434">ass(0.60)</text><text x="1355" y="6553">def(0.20)</text><text x="1355" y="6632">ass(0.60)</text><text x="1355" y="6712">def(0.20)</text><text x="1355" y="6832">def(0.20)</text><text x="1355" y="6855">ass(0.60)</text><text x="1355" y="6900">ass(0.60)</text><text x="1355" y="6973">def(0.20)</text><text x="1355" y="7012">syn(0.30)</text><text x="1355" y="7052">ass(0.60)</text><text x="1355" y="7091">ass(0.60)</text><text x="1355" y="7131">ass(0.60)</text><text x="1355" y="7171">syn(0.30)</text><text x="1355" y="7210">ass(0.60)</text><text x="1355" y="7250">ass(0.60)</text><text x="1355" y="7290">ass(0.60)</text><text x="1355" y="7330">ass(0.60)</text><text x="1355" y="7369">ass(0.60)</text><text x="1355" y="7409">syn(0.30)</text><text x="1370" y="6290">def(0.20)</text><text x="1370" y="6340">ass(0.60)</text>
<text x="1555" y="6418">syn(0.30)</text><text x="1555" y="6458">syn(0.30)</text><text x="1555" y="6538">def(0.20)</text><text x="1555" y="6577">syn(0.30)</text><text x="1555" y="6657">syn(0.30)</text><text x="1555" y="6822">syn(0.30)</text><text x="1555" y="6836">syn(0.30)</text><text x="1555" y="6870">syn(0.30)</text><text x="1555" y="6892">def(0.20)</text><text x="1555" y="7076">syn(0.30)</text><text x="1555" y="7229">syn(0.30)</text><text x="1555" y="7308">syn(0.30)</text><text x="1555" y="7388">ass(0.60)</text><text x="1555" y="7467">syn(0.30)</text><text x="1555" y="7627">syn(0.30)</text><text x="1555" y="7825">syn(0.30)</text><text x="1555" y="6299">syn(0.30)</text><text x="1555" y="6339">syn(0.30)</text><text x="1555" y="6378">syn(0.30)</text><text x="1555" y="5596">syn(0.30)</text>
<text x="1730" y="6496">ass(0.60)</text><text x="1730" y="6615">ass(0.60)</text><text x="1730" y="6716">ass(0.60)</text><text x="1730" y="6742">def(0.20)</text><text x="1730" y="6761">ass(0.60)</text><text x="1730" y="6808">ass(0.60)</text><text x="1730" y="6919">ass(0.60)</text><text x="1730" y="6959">ass(0.60)</text><text x="1730" y="6999">syn(0.30)</text><text x="1730" y="7039">ass(0.60)</text><text x="1730" y="7078">def(0.20)</text><text x="1730" y="7117">def(0.20)</text><text x="1730" y="7191">ass(0.60)</text><text x="1730" y="7271">ass(0.60)</text><text x="1730" y="7310">ass(0.60)</text><text x="1730" y="7350">syn(0.30)</text><text x="1730" y="7430">ass(0.60)</text><text x="1730" y="7509">def(0.20)</text><text x="1730" y="7549">ass(0.60)</text><text x="1730" y="7589">ass(0.60)</text><text x="1730" y="7668">ass(0.60)</text><text x="1730" y="7708">ass(0.60)</text><text x="1730" y="7748">ass(0.60)</text><text x="1730" y="7788">def(0.20)</text><text x="1730" y="7866">ass(0.60)</text><text x="1730" y="7906">ass(0.60)</text><text x="1730" y="7946">def(0.20)</text>
<text x="1730" y="5632">def(0.20)</text><text x="1730" y="5673">ass(0.60)</text><text x="1730" y="5713">ass(0.60)</text><text x="1730" y="5753">def(0.20)</text><text x="1730" y="5792">ass(0.60)</text><text x="1730" y="5831">ass(0.60)</text><text x="1730" y="5872">def(0.20)</text><text x="1730" y="5912">ass(0.60)</text><text x="1730" y="5951">ass(0.60)</text><text x="1730" y="5991">ass(0.60)</text><text x="1730" y="6030">ass(0.60)</text><text x="1730" y="6070">ass(0.60)</text><text x="1730" y="6110">def(0.20)</text><text x="1730" y="6150">def(0.20)</text><text x="1730" y="6218">ass(0.60)</text><text x="1730" y="6257">ass(0.60)</text><text x="1730" y="6297">def(0.20)</text>
<text x="1895" y="6518">ass(0.60)</text><text x="1895" y="6558">syn(0.30)</text><text x="1895" y="6540">syn(0.30)</text><text x="1895" y="6598">syn(0.30)</text><text x="1895" y="6638">def(0.20)</text><text x="1895" y="6677">syn(0.30)</text><text x="1895" y="6725">ass(0.60)</text><text x="1895" y="6748">ass(0.60)</text><text x="1895" y="6775">ass(0.60)</text><text x="1895" y="6800">ass(0.60)</text><text x="1895" y="6858">syn(0.30)</text><text x="1895" y="6898">ass(0.60)</text><text x="1895" y="6938">ass(0.60)</text><text x="1895" y="6978">ass(0.60)</text><text x="1895" y="7017">def(0.20)</text><text x="1895" y="7057">def(0.20)</text><text x="1895" y="7097">ass(0.60)</text><text x="1960" y="6300">ass(0.60)</text>
<text x="620" y="7036">ass(0.60)</text><text x="620" y="7135">def(0.20)</text><text x="620" y="7244">def(0.20)</text><text x="620" y="7284">ass(0.60)</text><text x="795" y="7260">ass(0.60)</text><text x="610" y="2400">def(0.20)</text><text x="620" y="2600">ass(0.60)</text>
<text x="225" y="2878">ass(0.60)</text><text x="225" y="2918">def(0.20)</text><text x="225" y="2958">ass(0.60)</text><text x="225" y="2998">ass(0.60)</text><text x="225" y="3030">def(0.20)</text><text x="330" y="3100">ass(0.60)</text>
<text x="225" y="3280">ass(0.60)</text><text x="225" y="3320">ass(0.60)</text><text x="225" y="3360">def(0.20)</text><text x="225" y="3400">ass(0.60)</text><text x="225" y="3440">ass(0.60)</text><text x="225" y="3480">ass(0.60)</text><text x="225" y="3520">def(0.20)</text><text x="225" y="3559">ass(0.60)</text><text x="225" y="3607">ass(0.60)</text><text x="225" y="3632">ass(0.60)</text><text x="225" y="3656">ass(0.60)</text><text x="225" y="3682">ass(0.60)</text><text x="225" y="3740">def(0.20)</text><text x="225" y="3780">ass(0.60)</text><text x="225" y="3820">ass(0.60)</text><text x="225" y="3859">ass(0.60)</text><text x="225" y="3899">def(0.20)</text><text x="225" y="3939">ass(0.60)</text>
<text x="420" y="3440">ass(0.60)</text><text x="420" y="3480">ass(0.60)</text><text x="420" y="3515">ass(0.60)</text><text x="420" y="3550">ass(0.60)</text>
<text x="225" y="4068">ass(0.60)</text><text x="225" y="4090">ass(0.60)</text><text x="225" y="4145">ass(0.60)</text><text x="400" y="4180">ass(0.60)</text>
<text x="100" y="4632">def(0.20)</text><text x="225" y="4458">ass(0.60)</text><text x="225" y="4498">ass(0.60)</text><text x="225" y="4537">def(0.20)</text><text x="225" y="4577">ass(0.60)</text><text x="225" y="4614">ass(0.60)</text><text x="225" y="4638">ass(0.60)</text><text x="225" y="4662">def(0.20)</text><text x="225" y="4718">ass(0.60)</text><text x="225" y="4758">ass(0.60)</text><text x="225" y="4798">ass(0.60)</text><text x="225" y="4838">def(0.20)</text>
<text x="420" y="4257">ass(0.60)</text><text x="420" y="4297">syn(0.30)</text><text x="420" y="4337">def(0.20)</text><text x="420" y="4376">syn(0.30)</text><text x="420" y="4416">ass(0.60)</text><text x="420" y="4854">syn(0.30)</text><text x="420" y="4893">syn(0.30)</text><text x="420" y="4933">def(0.20)</text><text x="420" y="4973">syn(0.30)</text><text x="420" y="5013">syn(0.30)</text><text x="420" y="5053">ass(0.60)</text><text x="420" y="5092">syn(0.30)</text><text x="420" y="5132">def(0.20)</text><text x="420" y="5174">syn(0.30)</text><text x="420" y="5198">syn(0.30)</text><text x="420" y="5222">def(0.20)</text><text x="420" y="5275">syn(0.30)</text><text x="420" y="5315">syn(0.30)</text><text x="420" y="5355">ass(0.60)</text><text x="420" y="5395">def(0.20)</text><text x="420" y="5434">syn(0.30)</text><text x="420" y="5474">def(0.20)</text><text x="420" y="5514">syn(0.30)</text><text x="420" y="5554">def(0.20)</text><text x="420" y="5593">syn(0.30)</text><text x="420" y="5633">ass(0.60)</text><text x="420" y="5673">def(0.20)</text><text x="420" y="5713">syn(0.30)</text><text x="420" y="5753">def(0.20)</text>
<text x="225" y="5810">ass(0.60)</text><text x="225" y="5850">def(0.20)</text><text x="225" y="5890">ass(0.60)</text><text x="225" y="5930">ass(0.60)</text><text x="225" y="5969">def(0.20)</text><text x="225" y="6009">ass(0.60)</text><text x="225" y="6049">ass(0.60)</text><text x="225" y="6090">def(0.20)</text><text x="225" y="6114">ass(0.60)</text><text x="225" y="6137">ass(0.60)</text><text x="225" y="6190">def(0.20)</text><text x="225" y="6230">ass(0.60)</text><text x="225" y="6270">ass(0.60)</text><text x="100" y="6108">syn(0.30)</text><text x="420" y="6290">def(0.20)</text><text x="420" y="6330">ass(0.60)</text><text x="420" y="6370">def(0.20)</text>
<text x="225" y="6327">ass(0.60)</text><text x="225" y="6367">ass(0.60)</text><text x="225" y="6407">def(0.20)</text><text x="420" y="6420">ass(0.60)</text><text x="420" y="6452">ass(0.60)</text><text x="420" y="6490">ass(0.60)</text><text x="420" y="6540">ass(0.60)</text><text x="420" y="6585">ass(0.60)</text><text x="420" y="6625">ass(0.60)</text><text x="420" y="6652">def(0.20)</text>
<text x="100" y="7329">def(0.20)</text><text x="225" y="7256">def(0.20)</text><text x="225" y="7296">def(0.20)</text><text x="225" y="7326">ass(0.60)</text><text x="225" y="7360">def(0.20)</text><text x="225" y="7398">def(0.20)</text><text x="225" y="7438">ass(0.60)</text><text x="225" y="7478">def(0.20)</text><text x="300" y="6900">def(0.20)</text>
</g>
<g id="nodes">
<g id="n1"><ellipse cx="528" cy="513" rx="29" ry="18"/><text x="528" y="518">говеть</text></g>
<g id="n2"><ellipse cx="528" cy="552" rx="45" ry="18"/><text x="528" y="557">причастить</text></g>
<g id="n3"><ellipse cx="528" cy="3168" rx="37" ry="18"/><text x="528" y="3173">рюмочный</text></g>
<g id="n4"><ellipse cx="528" cy="3414" rx="37" ry="18"/><text x="528" y="3419">алкоголь</text></g>
<g id="n5"><ellipse cx="528" cy="3452" rx="53" ry="18"/><text x="528" y="3457">удовольствие</text></g>
<g id="n6"><ellipse cx="528" cy="3492" rx="41" ry="18"/><text x="528" y="3497">понемногу</text></g>
<g id="n7"><ellipse cx="528" cy="3532" rx="27" ry="18"/><text x="528" y="3537">часто</text></g>
<g id="n8"><ellipse cx="528" cy="4169" rx="29" ry="18"/><text x="528" y="4174">крюшон</text></g>
<g id="n9"><ellipse cx="528" cy="4368" rx="29" ry="18"/><text x="528" y="4373">братин</text></g>
<g id="n10"><ellipse cx="528" cy="5199" rx="27" ry="18"/><text x="528" y="5204">пить</text></g>
<g id="n11"><ellipse cx="528" cy="6297" rx="33" ry="18"/><text x="528" y="6302">единица</text></g>
<g id="n12"><ellipse cx="528" cy="6336" rx="49" ry="18"/><text x="528" y="6341">атмосферный</text></g>
<g id="n13"><ellipse cx="528" cy="6376" rx="41" ry="18"/><text x="528" y="6381">отделение</text></g>
<g id="n14"><ellipse cx="528" cy="6416" rx="29" ry="18"/><text x="528" y="6421">малага</text></g>
<g id="n15"><ellipse cx="528" cy="6456" rx="27" ry="18"/><text x="528" y="6461">шкаф</text></g>
<g id="n16"><ellipse cx="528" cy="6496" rx="33" ry="18"/><text x="528" y="6501">сервант</text></g>
<g id="n17"><ellipse cx="528" cy="6591" rx="37" ry="18"/><text x="528" y="6596">давление</text></g>
<g id="n18"><ellipse cx="528" cy="6631" rx="27" ry="18"/><text x="528" y="6636">есть</text></g>
<g id="n19"><ellipse cx="528" cy="6670" rx="37" ry="18"/><text x="528" y="6675">ресторан</text></g>
<g id="n20"><ellipse cx="528" cy="7149" rx="41" ry="18"/><text x="528" y="7154">возлияние</text></g>
<g id="n21"><ellipse cx="622" cy="6548" rx="27" ry="18"/><text x="622" y="6553">буфет</text></g>
<g id="n22"><ellipse cx="622" cy="6638" rx="29" ry="18"/><text x="622" y="6643">стойка</text></g>
<g id="n23"><ellipse cx="715" cy="532" rx="41" ry="18"/><text x="715" y="537">причастие</text></g>
<g id="n24"><ellipse cx="715" cy="1974" rx="41" ry="18"/><text x="715" y="1979">заведение</text></g>
<g id="n25"><ellipse cx="715" cy="2014" rx="37" ry="18"/><text x="715" y="2019">торговый</text></g>
<g id="n26"><ellipse cx="715" cy="2110" rx="37" ry="18"/><text x="715" y="2115">вакханка</text></g>
<g id="n27"><ellipse cx="715" cy="3379" rx="41" ry="18"/><text x="715" y="3384">запеканка</text></g>
<g id="n28"><ellipse cx="715" cy="3418" rx="37" ry="18"/><text x="715" y="3423">сливянка</text></g>
<g id="n29"><ellipse cx="715" cy="3458" rx="37" ry="18"/><text x="715" y="3463">вишневка</text></g>
<g id="n30"><ellipse cx="715" cy="3526" rx="33" ry="18"/><text x="715" y="3531">атомный</text></g>
<g id="n31"><ellipse cx="715" cy="3606" rx="29" ry="18"/><text x="715" y="3611">пьянка</text></g>
<g id="n32"><ellipse cx="715" cy="3768" rx="27" ry="18"/><text x="715" y="3773">фужер</text></g>
<g id="n33"><ellipse cx="715" cy="3837" rx="49" ry="18"/><text x="715" y="3842">распивочный</text></g>
<g id="n34"><ellipse cx="715" cy="3933" rx="27" ry="18"/><text x="715" y="3938">ром</text></g>
<g id="n35"><ellipse cx="715" cy="3972" rx="27" ry="18"/><text x="715" y="3977">кубок</text></g>
<g id="n36"><ellipse cx="715" cy="4012" rx="29" ry="18"/><text x="715" y="4017">коньяк</text></g>
<g id="n37"><ellipse cx="715" cy="4079" rx="53" ry="18"/><text x="715" y="4084">прохладитель</text></g>
<g id="n38"><ellipse cx="715" cy="4148" rx="29" ry="18"/><text x="715" y="4153">купель</text></g>
<g id="n39"><ellipse cx="715" cy="4187" rx="27" ry="18"/><text x="715" y="4192">пиала</text></g>
<g id="n40"><ellipse cx="715" cy="4227" rx="29" ry="18"/><text x="715" y="4232">кимвал</text></g>
<g id="n41"><ellipse cx="715" cy="4295" rx="27" ry="18"/><text x="715" y="4300">ный</text></g>
<g id="n42"><ellipse cx="715" cy="4334" rx="41" ry="18"/><text x="715" y="4339">фруктовый</text></g>
<g id="n43"><ellipse cx="715" cy="4408" rx="33" ry="18"/><text x="715" y="4413">самогон</text></g>
<g id="n44"><ellipse cx="715" cy="4735" rx="27" ry="18"/><text x="715" y="4740">еда</text></g>
<g id="n45"><ellipse cx="715" cy="4864" rx="29" ry="18"/><text x="715" y="4869">лакать</text></g>
<g id="n46"><ellipse cx="715" cy="4904" rx="29" ry="18"/><text x="715" y="4909">сосать</text></g>
<g id="n47"><ellipse cx="715" cy="4944" rx="33" ry="18"/><text x="715" y="4949">глотать</text></g>
<g id="n48"><ellipse cx="715" cy="4984" rx="41" ry="18"/><text x="715" y="4989">постоянно</text></g>
<g id="n49"><ellipse cx="715" cy="5023" rx="33" ry="18"/><text x="715" y="5028">хлебать</text></g>
<g id="n50"><ellipse cx="715" cy="5063" rx="29" ry="18"/><text x="715" y="5068">кушать</text></g>
<g id="n51"><ellipse cx="715" cy="5103" rx="49" ry="18"/><text x="715" y="5108">употреблять</text></g>
<g id="n52"><ellipse cx="715" cy="5143" rx="37" ry="18"/><text x="715" y="5148">спиртное</text></g>
<g id="n53"><ellipse cx="715" cy="5183" rx="53" ry="18"/><text x="715" y="5188">кокое-нибудь</text></g>
<g id="n54"><ellipse cx="715" cy="5222" rx="53" ry="18"/><text x="715" y="5227">проглатывать</text></g>
<g id="n55"><ellipse cx="715" cy="5262" rx="37" ry="18"/><text x="715" y="5267">качество</text></g>
<g id="n56"><ellipse cx="715" cy="5302" rx="29" ry="18"/><text x="715" y="5307">тянуть</text></g>
<g id="n57"><ellipse cx="715" cy="5342" rx="41" ry="18"/><text x="715" y="5347">принимать</text></g>
<g id="n58"><ellipse cx="715" cy="5382" rx="53" ry="18"/><text x="715" y="5387">пьянствовать</text></g>
<g id="n59"><ellipse cx="715" cy="5504" rx="29" ry="18"/><text x="715" y="5509">опоить</text></g>
<g id="n60"><ellipse cx="715" cy="5579" rx="27" ry="18"/><text x="715" y="5584">какао</text></g>
<g id="n61"><ellipse cx="715" cy="5618" rx="27" ry="18"/><text x="715" y="5623">грог</text></g>
<g id="n62"><ellipse cx="715" cy="5658" rx="29" ry="18"/><text x="715" y="5663">малина</text></g>
<g id="n63"><ellipse cx="715" cy="5698" rx="37" ry="18"/><text x="715" y="5703">непьющий</text></g>
<g id="n64"><ellipse cx="715" cy="5737" rx="33" ry="18"/><text x="715" y="5742">сбитень</text></g>
<g id="n65"><ellipse cx="715" cy="5777" rx="37" ry="18"/><text x="715" y="5782">аперитив</text></g>
<g id="n66"><ellipse cx="715" cy="5816" rx="37" ry="18"/><text x="715" y="5821">питейный</text></g>
<g id="n67"><ellipse cx="715" cy="5856" rx="37" ry="18"/><text x="715" y="5861">пьянство</text></g>
<g id="n68"><ellipse cx="715" cy="5896" rx="27" ry="18"/><text x="715" y="5901">кофе</text></g>
<g id="n69"><ellipse cx="715" cy="5936" rx="27" ry="18"/><text x="715" y="5941">ликер</text></g>
<g id="n70"><ellipse cx="715" cy="5975" rx="45" ry="18"/><text x="715" y="5980">алкоголизм</text></g>
<g id="n71"><ellipse cx="715" cy="6015" rx="33" ry="18"/><text x="715" y="6020">шоколад</text></g>
<g id="n72"><ellipse cx="715" cy="6055" rx="27" ry="18"/><text x="715" y="6060">кефир</text></g>
<g id="n73"><ellipse cx="715" cy="6095" rx="29" ry="18"/><text x="715" y="6100">шербет</text></g>
<g id="n74"><ellipse cx="715" cy="6135" rx="27" ry="18"/><text x="715" y="6140">сыта</text></g>
<g id="n75"><ellipse cx="715" cy="6174" rx="27" ry="18"/><text x="715" y="6179">ситро</text></g>
<g id="n76"><ellipse cx="715" cy="6214" rx="27" ry="18"/><text x="715" y="6219">чал</text></g>
<g id="n77"><ellipse cx="715" cy="6254" rx="27" ry="18"/><text x="715" y="6259">род</text></g>
<g id="n78"><ellipse cx="715" cy="6293" rx="27" ry="18"/><text x="715" y="6298">квас</text></g>
<g id="n79"><ellipse cx="715" cy="6333" rx="33" ry="18"/><text x="715" y="6338">трезвый</text></g>
<g id="n80"><ellipse cx="715" cy="6372" rx="27" ry="18"/><text x="715" y="6377">чай</text></g>
<g id="n81"><ellipse cx="715" cy="6413" rx="27" ry="18"/><text x="715" y="6418">кумыс</text></g>
<g id="n82"><ellipse cx="715" cy="6453" rx="29" ry="18"/><text x="715" y="6458">нектар</text></g>
<g id="n83"><ellipse cx="715" cy="6493" rx="41" ry="18"/><text x="715" y="6498">крем-сода</text></g>
<g id="n84"><ellipse cx="715" cy="6533" rx="37" ry="18"/><text x="715" y="6538">медовуха</text></g>
<g id="n85"><ellipse cx="715" cy="6606" rx="41" ry="18"/><text x="715" y="6611">маркитант</text></g>
<g id="n86"><ellipse cx="715" cy="6645" rx="33" ry="18"/><text x="715" y="6650">лимонад</text></g>
<g id="n87"><ellipse cx="715" cy="6719" rx="29" ry="18"/><text x="715" y="6724">жженка</text></g>
<g id="n88"><ellipse cx="715" cy="6759" rx="27" ry="18"/><text x="715" y="6764">буза</text></g>
<g id="n89"><ellipse cx="715" cy="6798" rx="27" ry="18"/><text x="715" y="6803">мед</text></g>
<g id="n90"><ellipse cx="715" cy="6838" rx="27" ry="18"/><text x="715" y="6843">пунш</text></g>
<g id="n91"><ellipse cx="715" cy="6878" rx="27" ry="18"/><text x="715" y="6883">морс</text></g>
<g id="n92"><ellipse cx="715" cy="6917" rx="27" ry="18"/><text x="715" y="6922">солод</text></g>
<g id="n93"><ellipse cx="715" cy="6957" rx="33" ry="18"/><text x="715" y="6962">шипучка</text></g>
<g id="n94"><ellipse cx="715" cy="7024" rx="37" ry="18"/><text x="715" y="7029">спиртной</text></g>
<g id="n95"><ellipse cx="715" cy="7127" rx="33" ry="18"/><text x="715" y="7132">выпивка</text></g>
<g id="n96"><ellipse cx="715" cy="7250" rx="45" ry="18"/><text x="715" y="7255">принесение</text></g>
<g id="n97"><ellipse cx="715" cy="7290" rx="29" ry="18"/><text x="715" y="7295">жертва</text></g>
<g id="n98"><ellipse cx="715" cy="7364" rx="41" ry="18"/><text x="715" y="7369">глинтвейн</text></g>
<g id="n99"><ellipse cx="876" cy="16" rx="33" ry="18"/><text x="876" y="21">попойка</text></g>
<g id="n100"><ellipse cx="876" cy="56" rx="27" ry="18"/><text x="876" y="61">готов</text></g>
<g id="n101"><ellipse cx="876" cy="95" rx="45" ry="18"/><text x="876" y="100">причащение</text></g>
<g id="n102"><ellipse cx="876" cy="135" rx="41" ry="18"/><text x="876" y="140">категория</text></g>
<g id="n103"><ellipse cx="876" cy="174" rx="33" ry="18"/><text x="876" y="179">церковь</text></g>
<g id="n104"><ellipse cx="876" cy="214" rx="37" ry="18"/><text x="876" y="219">просвира</text></g>
<g id="n105"><ellipse cx="876" cy="254" rx="61" ry="18"/><text x="876" y="259">прилагательное</text></g>
<g id="n106"><ellipse cx="876" cy="294" rx="29" ry="18"/><text x="876" y="299">глагол</text></g>
<g id="n107"><ellipse cx="876" cy="334" rx="33" ry="18"/><text x="876" y="339">окосеть</text></g>
<g id="n108"><ellipse cx="876" cy="373" rx="45" ry="18"/><text x="876" y="378">нализаться</text></g>
<g id="n109"><ellipse cx="876" cy="413" rx="33" ry="18"/><text x="876" y="418">набрать</text></g>
<g id="n110"><ellipse cx="876" cy="453" rx="27" ry="18"/><text x="876" y="458">пьянь</text></g>
<g id="n111"><ellipse cx="876" cy="493" rx="37" ry="18"/><text x="876" y="498">напиться</text></g>
<g id="n112"><ellipse cx="876" cy="532" rx="33" ry="18"/><text x="876" y="537">пьянить</text></g>
<g id="n113"><ellipse cx="876" cy="571" rx="49" ry="18"/><text x="876" y="576">нагрузиться</text></g>
<g id="n114"><ellipse cx="876" cy="611" rx="37" ry="18"/><text x="876" y="616">выпивака</text></g>
<g id="n115"><ellipse cx="876" cy="651" rx="37" ry="18"/><text x="876" y="656">вышибала</text></g>
<g id="n116"><ellipse cx="876" cy="691" rx="33" ry="18"/><text x="876" y="696">пьянеть</text></g>
<g id="n117"><ellipse cx="876" cy="731" rx="29" ry="18"/><text x="876" y="736">грузон</text></g>
<g id="n118"><ellipse cx="876" cy="770" rx="27" ry="18"/><text x="876" y="775">форма</text></g>
<g id="n119"><ellipse cx="876" cy="810" rx="45" ry="18"/><text x="876" y="815">нахлестать</text></g>
<g id="n120"><ellipse cx="876" cy="850" rx="37" ry="18"/><text x="876" y="855">обладать</text></g>
<g id="n121"><ellipse cx="876" cy="890" rx="33" ry="18"/><text x="876" y="895">кусочек</text></g>
<g id="n122"><ellipse cx="876" cy="930" rx="29" ry="18"/><text x="876" y="935">наряду</text></g>
<g id="n123"><ellipse cx="876" cy="969" rx="37" ry="18"/><text x="876" y="974">накачать</text></g>
<g id="n124"><ellipse cx="876" cy="1043" rx="53" ry="18"/><text x="876" y="1048">плоскостопие</text></g>
<g id="n125"><ellipse cx="876" cy="1083" rx="41" ry="18"/><text x="876" y="1088">супинатор</text></g>
<g id="n126"><ellipse cx="876" cy="1122" rx="29" ry="18"/><text x="876" y="1127">голень</text></g>
<g id="n127"><ellipse cx="876" cy="1162" rx="33" ry="18"/><text x="876" y="1167">спондей</text></g>
<g id="n128"><ellipse cx="876" cy="1202" rx="45" ry="18"/><text x="876" y="1207">амфибрахий</text></g>
<g id="n129"><ellipse cx="876" cy="1242" rx="27" ry="18"/><text x="876" y="1247">лапа</text></g>
<g id="n130"><ellipse cx="876" cy="1282" rx="29" ry="18"/><text x="876" y="1287">лапоть</text></g>
<g id="n131"><ellipse cx="876" cy="1321" rx="27" ry="18"/><text x="876" y="1326">хорей</text></g>
<g id="n132"><ellipse cx="876" cy="1361" rx="33" ry="18"/><text x="876" y="1366">дактиль</text></g>
<g id="n133"><ellipse cx="876" cy="1401" rx="27" ry="18"/><text x="876" y="1406">ямб</text></g>
<g id="n134"><ellipse cx="876" cy="1441" rx="33" ry="18"/><text x="876" y="1446">анапест</text></g>
<g id="n135"><ellipse cx="876" cy="1480" rx="33" ry="18"/><text x="876" y="1485">лодыжка</text></g>
<g id="n136"><ellipse cx="876" cy="1962" rx="27" ry="18"/><text x="876" y="1967">жрица</text></g>
<g id="n137"><ellipse cx="876" cy="2002" rx="41" ry="18"/><text x="876" y="2007">проводить</text></g>
<g id="n138"><ellipse cx="876" cy="2070" rx="33" ry="18"/><text x="876" y="2075">женщина</text></g>
<g id="n139"><ellipse cx="876" cy="2109" rx="33" ry="18"/><text x="876" y="2114">молодой</text></g>
<g id="n140"><ellipse cx="876" cy="2149" rx="27" ry="18"/><text x="876" y="2154">жизнь</text></g>
<g id="n141"><ellipse cx="876" cy="2222" rx="27" ry="18"/><text x="876" y="2227">пир</text></g>
<g id="n142"><ellipse cx="876" cy="2456" rx="53" ry="18"/><text x="876" y="2461">пакетировать</text></g>
<g id="n143"><ellipse cx="876" cy="2523" rx="45" ry="18"/><text x="876" y="2528">капельница</text></g>
<g id="n144"><ellipse cx="876" cy="2563" rx="33" ry="18"/><text x="876" y="2568">потница</text></g>
<g id="n145"><ellipse cx="876" cy="2603" rx="45" ry="18"/><text x="876" y="2608">пузырчатый</text></g>
<g id="n146"><ellipse cx="876" cy="2643" rx="29" ry="18"/><text x="876" y="2648">парнас</text></g>
<g id="n147"><ellipse cx="876" cy="2683" rx="37" ry="18"/><text x="876" y="2688">идеализм</text></g>
<g id="n148"><ellipse cx="876" cy="2722" rx="49" ry="18"/><text x="876" y="2727">материализм</text></g>
<g id="n149"><ellipse cx="876" cy="2762" rx="37" ry="18"/><text x="876" y="2767">лафитник</text></g>
<g id="n150"><ellipse cx="876" cy="2802" rx="29" ry="18"/><text x="876" y="2807">монизм</text></g>
<g id="n151"><ellipse cx="876" cy="2842" rx="41" ry="18"/><text x="876" y="2847">отшельник</text></g>
<g id="n152"><ellipse cx="876" cy="2910" rx="27" ry="18"/><text x="876" y="2915">чубук</text></g>
<g id="n153"><ellipse cx="876" cy="2950" rx="27" ry="18"/><text x="876" y="2955">изюм</text></g>
<g id="n154"><ellipse cx="876" cy="2990" rx="49" ry="18"/><text x="876" y="2995">виноградина</text></g>
<g id="n155"><ellipse cx="876" cy="3030" rx="29" ry="18"/><text x="876" y="3035">кишмиш</text></g>
<g id="n156"><ellipse cx="876" cy="3068" rx="61" ry="18"/><text x="876" y="3073">виноградарство</text></g>
<g id="n157"><ellipse cx="876" cy="3108" rx="33" ry="18"/><text x="876" y="3113">коринка</text></g>
<g id="n158"><ellipse cx="876" cy="3148" rx="27" ry="18"/><text x="876" y="3153">сусло</text></g>
<g id="n159"><ellipse cx="876" cy="3188" rx="49" ry="18"/><text x="876" y="3193">виноградник</text></g>
<g id="n160"><ellipse cx="876" cy="3255" rx="37" ry="18"/><text x="876" y="3260">чокаться</text></g>
<g id="n161"><ellipse cx="876" cy="3379" rx="33" ry="18"/><text x="876" y="3384">наливка</text></g>
<g id="n162"><ellipse cx="876" cy="3418" rx="37" ry="18"/><text x="876" y="3423">настоять</text></g>
<g id="n163"><ellipse cx="876" cy="3458" rx="41" ry="18"/><text x="876" y="3463">валериана</text></g>
<g id="n164"><ellipse cx="876" cy="3531" rx="41" ry="18"/><text x="876" y="3536">рябиновка</text></g>
<g id="n165"><ellipse cx="876" cy="3571" rx="33" ry="18"/><text x="876" y="3576">травник</text></g>
<g id="n166"><ellipse cx="876" cy="3792" rx="29" ry="18"/><text x="876" y="3797">мускат</text></g>
<g id="n167"><ellipse cx="876" cy="4045" rx="27" ry="18"/><text x="876" y="4050">чара</text></g>
<g id="n168"><ellipse cx="876" cy="4140" rx="27" ry="18"/><text x="876" y="4145">бокал</text></g>
<g id="n169"><ellipse cx="876" cy="4424" rx="27" ry="18"/><text x="876" y="4429">чаша</text></g>
<g id="n170"><ellipse cx="876" cy="5960" rx="33" ry="18"/><text x="876" y="5965">напиток</text></g>
<g id="n171"><ellipse cx="876" cy="7219" rx="33" ry="18"/><text x="876" y="7224">горячий</text></g>
<g id="n172"><ellipse cx="876" cy="7694" rx="33" ry="18"/><text x="876" y="7699">винодел</text></g>
<g id="n173"><ellipse cx="1043" cy="493" rx="29" ry="18"/><text x="1043" y="498">пьяный</text></g>
<g id="n174"><ellipse cx="1043" cy="1197" rx="27" ry="18"/><text x="1043" y="1202">стопа</text></g>
<g id="n175"><ellipse cx="1043" cy="1449" rx="49" ry="18"/><text x="1043" y="1454">забегаловка</text></g>
<g id="n176"><ellipse cx="1043" cy="1686" rx="45" ry="18"/><text x="1043" y="1691">вакхальный</text></g>
<g id="n177"><ellipse cx="1043" cy="2160" rx="45" ry="18"/><text x="1043" y="2165">вакханалия</text></g>
<g id="n178"><ellipse cx="1043" cy="2484" rx="29" ry="18"/><text x="1043" y="2489">стопка</text></g>
<g id="n179"><ellipse cx="1043" cy="2596" rx="33" ry="18"/><text x="1043" y="2601">пузырек</text></g>
<g id="n180"><ellipse cx="1043" cy="2721" rx="27" ry="18"/><text x="1043" y="2726">миро</text></g>
<g id="n181"><ellipse cx="1043" cy="3040" rx="37" ry="18"/><text x="1043" y="3045">виноград</text></g>
<g id="n182"><ellipse cx="1043" cy="3235" rx="27" ry="18"/><text x="1043" y="3240">рюмка</text></g>
<g id="n183"><ellipse cx="1043" cy="3467" rx="37" ry="18"/><text x="1043" y="3472">настойка</text></g>
<g id="n184"><ellipse cx="1043" cy="3560" rx="37" ry="18"/><text x="1043" y="3565">округлый</text></g>
<g id="n185"><ellipse cx="1043" cy="3600" rx="27" ry="18"/><text x="1043" y="3605">сатир</text></g>
<g id="n186"><ellipse cx="1043" cy="3667" rx="49" ry="18"/><text x="1043" y="3672">четвертинка</text></g>
<g id="n187"><ellipse cx="1043" cy="3707" rx="27" ry="18"/><text x="1043" y="3712">фрукт</text></g>
<g id="n188"><ellipse cx="1043" cy="3747" rx="57" ry="18"/><text x="1043" y="3752">ароматический</text></g>
<g id="n189"><ellipse cx="1043" cy="3787" rx="41" ry="18"/><text x="1043" y="3792">мускатник</text></g>
<g id="n190"><ellipse cx="1043" cy="3827" rx="41" ry="18"/><text x="1043" y="3832">ароматный</text></g>
<g id="n191"><ellipse cx="1043" cy="4040" rx="27" ry="18"/><text x="1043" y="4045">чарка</text></g>
<g id="n192"><ellipse cx="1043" cy="4237" rx="27" ry="18"/><text x="1043" y="4242">вид</text></g>
<g id="n193"><ellipse cx="1043" cy="4394" rx="33" ry="18"/><text x="1043" y="4399">большой</text></g>
<g id="n194"><ellipse cx="1043" cy="4463" rx="27" ry="18"/><text x="1043" y="4468">spec</text></g>
<g id="n195"><ellipse cx="1043" cy="4535" rx="57" ry="18"/><text x="1043" y="4540">искусственный</text></g>
<g id="n196"><ellipse cx="1043" cy="4574" rx="53" ry="18"/><text x="1043" y="4579">естественный</text></g>
<g id="n197"><ellipse cx="1043" cy="4615" rx="41" ry="18"/><text x="1043" y="4620">резервуар</text></g>
<g id="n198"><ellipse cx="1043" cy="4655" rx="29" ry="18"/><text x="1043" y="4660">судьба</text></g>
<g id="n199"><ellipse cx="1043" cy="4971" rx="37" ry="18"/><text x="1043" y="4976">портвейн</text></g>
<g id="n200"><ellipse cx="1043" cy="5888" rx="33" ry="18"/><text x="1043" y="5893">продукт</text></g>
<g id="n201"><ellipse cx="1043" cy="5956" rx="37" ry="18"/><text x="1043" y="5961">коктейль</text></g>
<g id="n202"><ellipse cx="1043" cy="6051" rx="29" ry="18"/><text x="1043" y="6056">вермут</text></g>
<g id="n203"><ellipse cx="1043" cy="6358" rx="27" ry="18"/><text x="1043" y="6363">питие</text></g>
<g id="n204"><ellipse cx="1043" cy="6426" rx="27" ry="18"/><text x="1043" y="6431">сидр</text></g>
<g id="n205"><ellipse cx="1043" cy="6465" rx="27" ry="18"/><text x="1043" y="6470">кагор</text></g>
<g id="n206"><ellipse cx="1043" cy="6720" rx="33" ry="18"/><text x="1043" y="6725">рислинг</text></g>
<g id="n207"><ellipse cx="1043" cy="6868" rx="27" ry="18"/><text x="1043" y="6873">лафит</text></g>
<g id="n208"><ellipse cx="1043" cy="6964" rx="37" ry="18"/><text x="1043" y="6969">рейнвейн</text></g>
<g id="n209"><ellipse cx="1043" cy="7049" rx="27" ry="18"/><text x="1043" y="7054">херес</text></g>
<g id="n210"><ellipse cx="1043" cy="7482" rx="29" ry="18"/><text x="1043" y="7487">мадера</text></g>
<g id="n211"><ellipse cx="1043" cy="7549" rx="29" ry="18"/><text x="1043" y="7554">чихирь</text></g>
<g id="n212"><ellipse cx="1043" cy="7649" rx="41" ry="18"/><text x="1043" y="7654">бормотуха</text></g>
<g id="n213"><ellipse cx="1043" cy="7694" rx="41" ry="18"/><text x="1043" y="7699">виноделие</text></g>
<g id="n214"><ellipse cx="1043" cy="7792" rx="45" ry="18"/><text x="1043" y="7797">шампанский</text></g>
<g id="n215"><ellipse cx="1043" cy="7932" rx="37" ry="18"/><text x="1043" y="7937">винотека</text></g>
<g id="n216"><ellipse cx="1138" cy="4578" rx="27" ry="18"/><text x="1138" y="4583">пойло</text></g>
<g id="n217"><ellipse cx="1367" cy="4550" rx="41" ry="18"/><text x="1367" y="4555">маленькая</text></g>
<g id="n218"><ellipse cx="1244" cy="38" rx="41" ry="18"/><text x="1244" y="43">подпивший</text></g>
<g id="n219"><ellipse cx="1244" cy="82" rx="41" ry="18"/><text x="1244" y="87">забулдыга</text></g>
<g id="n220"><ellipse cx="1244" cy="123" rx="49" ry="18"/><text x="1244" y="128">запьяневший</text></g>
<g id="n221"><ellipse cx="1244" cy="163" rx="49" ry="18"/><text x="1244" y="168">захмелевший</text></g>
<g id="n222"><ellipse cx="1244" cy="203" rx="37" ry="18"/><text x="1244" y="208">пьянчуга</text></g>
<g id="n223"><ellipse cx="1244" cy="243" rx="37" ry="18"/><text x="1244" y="248">хмельной</text></g>
<g id="n224"><ellipse cx="1244" cy="283" rx="41" ry="18"/><text x="1244" y="288">возбудить</text></g>
<g id="n225"><ellipse cx="1244" cy="322" rx="49" ry="18"/><text x="1244" y="327">возбуждение</text></g>
<g id="n226"><ellipse cx="1244" cy="362" rx="41" ry="18"/><text x="1244" y="367">приводить</text></g>
<g id="n227"><ellipse cx="1244" cy="402" rx="45" ry="18"/><text x="1244" y="407">одурманить</text></g>
<g id="n228"><ellipse cx="1244" cy="442" rx="49" ry="18"/><text x="1244" y="447">подгулявший</text></g>
<g id="n229"><ellipse cx="1244" cy="481" rx="37" ry="18"/><text x="1244" y="486">выпивший</text></g>
<g id="n230"><ellipse cx="1244" cy="521" rx="37" ry="18"/><text x="1244" y="526">пропойца</text></g>
<g id="n231"><ellipse cx="1244" cy="561" rx="41" ry="18"/><text x="1244" y="566">алкоголик</text></g>
<g id="n232"><ellipse cx="1244" cy="601" rx="33" ry="18"/><text x="1244" y="606">бражник</text></g>
<g id="n233"><ellipse cx="1244" cy="641" rx="41" ry="18"/><text x="1244" y="646">опьянение</text></g>
<g id="n234"><ellipse cx="1244" cy="680" rx="27" ry="18"/><text x="1244" y="685">какбы</text></g>
<g id="n235"><ellipse cx="1244" cy="720" rx="29" ry="18"/><text x="1244" y="725">гуляка</text></g>
<g id="n236"><ellipse cx="1244" cy="760" rx="49" ry="18"/><text x="1244" y="765">подвыпивший</text></g>
<g id="n237"><ellipse cx="1244" cy="800" rx="33" ry="18"/><text x="1244" y="805">пьяница</text></g>
<g id="n238"><ellipse cx="1244" cy="839" rx="45" ry="18"/><text x="1244" y="844">опьяневший</text></g>
<g id="n239"><ellipse cx="1244" cy="879" rx="45" ry="18"/><text x="1244" y="884">предплюсна</text></g>
<g id="n240"><ellipse cx="1244" cy="919" rx="27" ry="18"/><text x="1244" y="924">палец</text></g>
<g id="n241"><ellipse cx="1244" cy="959" rx="29" ry="18"/><text x="1244" y="964">плюсна</text></g>
<g id="n242"><ellipse cx="1244" cy="999" rx="27" ry="18"/><text x="1244" y="1004">шаг</text></g>
<g id="n243"><ellipse cx="1244" cy="1038" rx="45" ry="18"/><text x="1244" y="1043">одинаковый</text></g>
<g id="n244"><ellipse cx="1244" cy="1078" rx="33" ry="18"/><text x="1244" y="1083">предмет</text></g>
<g id="n245"><ellipse cx="1244" cy="1118" rx="27" ry="18"/><text x="1244" y="1123">ряд</text></g>
<g id="n246"><ellipse cx="1244" cy="1158" rx="29" ry="18"/><text x="1244" y="1163">ровный</text></g>
<g id="n247"><ellipse cx="1244" cy="1197" rx="37" ry="18"/><text x="1244" y="1202">наложить</text></g>
<g id="n248"><ellipse cx="1244" cy="1237" rx="27" ry="18"/><text x="1244" y="1242">часть</text></g>
<g id="n249"><ellipse cx="1244" cy="1277" rx="29" ry="18"/><text x="1244" y="1282">размер</text></g>
<g id="n250"><ellipse cx="1244" cy="1316" rx="37" ry="18"/><text x="1244" y="1321">состоять</text></g>
<g id="n251"><ellipse cx="1244" cy="1384" rx="61" ry="18"/><text x="1244" y="1389">второразрядный</text></g>
<g id="n252"><ellipse cx="1244" cy="1423" rx="45" ry="18"/><text x="1244" y="1428">закусочный</text></g>
<g id="n253"><ellipse cx="1244" cy="1463" rx="33" ry="18"/><text x="1244" y="1468">продажа</text></g>
<g id="n254"><ellipse cx="1244" cy="1503" rx="49" ry="18"/><text x="1244" y="1508">безудержный</text></g>
<g id="n255"><ellipse cx="1244" cy="1543" rx="27" ry="18"/><text x="1244" y="1548">культ</text></g>
<g id="n256"><ellipse cx="1244" cy="1583" rx="33" ry="18"/><text x="1244" y="1588">связать</text></g>
<g id="n257"><ellipse cx="1244" cy="1622" rx="45" ry="18"/><text x="1244" y="1627">относиться</text></g>
<g id="n258"><ellipse cx="1244" cy="1662" rx="27" ry="18"/><text x="1244" y="1667">вакху</text></g>
<g id="n259"><ellipse cx="1244" cy="1702" rx="45" ry="18"/><text x="1244" y="1707">разгульный</text></g>
<g id="n260"><ellipse cx="1244" cy="1742" rx="29" ry="18"/><text x="1244" y="1747">вообще</text></g>
<g id="n261"><ellipse cx="1244" cy="1782" rx="49" ry="18"/><text x="1244" y="1787">празднество</text></g>
<g id="n262"><ellipse cx="1244" cy="1821" rx="27" ry="18"/><text x="1244" y="1826">нога</text></g>
<g id="n263"><ellipse cx="1244" cy="1861" rx="33" ry="18"/><text x="1244" y="1866">веселье</text></g>
<g id="n264"><ellipse cx="1244" cy="1901" rx="27" ry="18"/><text x="1244" y="1906">вакха</text></g>
<g id="n265"><ellipse cx="1244" cy="1941" rx="33" ry="18"/><text x="1244" y="1946">веселие</text></g>
<g id="n266"><ellipse cx="1244" cy="1980" rx="27" ry="18"/><text x="1244" y="1985">бог</text></g>
<g id="n267"><ellipse cx="1244" cy="2019" rx="45" ry="18"/><text x="1244" y="2024">беспородка</text></g>
<g id="n268"><ellipse cx="1244" cy="2059" rx="41" ry="18"/><text x="1244" y="2064">неистовый</text></g>
<g id="n269"><ellipse cx="1244" cy="2099" rx="27" ry="18"/><text x="1244" y="2104">lib</text></g>
<g id="n270"><ellipse cx="1244" cy="2139" rx="29" ry="18"/><text x="1244" y="2144">разгул</text></g>
<g id="n271"><ellipse cx="1244" cy="2179" rx="33" ry="18"/><text x="1244" y="2184">степень</text></g>
<g id="n272"><ellipse cx="1244" cy="2218" rx="33" ry="18"/><text x="1244" y="2223">крайний</text></g>
<g id="n273"><ellipse cx="1244" cy="2258" rx="27" ry="18"/><text x="1244" y="2263">быть</text></g>
<g id="n274"><ellipse cx="1244" cy="2354" rx="27" ry="18"/><text x="1244" y="2359">употр</text></g>
<g id="n275"><ellipse cx="1244" cy="2394" rx="45" ry="18"/><text x="1244" y="2399">деревянный</text></g>
<g id="n276"><ellipse cx="1244" cy="2434" rx="29" ry="18"/><text x="1244" y="2439">стакан</text></g>
<g id="n277"><ellipse cx="1244" cy="2473" rx="41" ry="18"/><text x="1244" y="2478">маленький</text></g>
<g id="n278"><ellipse cx="1244" cy="2513" rx="33" ry="18"/><text x="1244" y="2518">склянка</text></g>
<g id="n279"><ellipse cx="1244" cy="2553" rx="41" ry="18"/><text x="1244" y="2558">бутылочка</text></g>
<g id="n280"><ellipse cx="1244" cy="2592" rx="27" ry="18"/><text x="1244" y="2597">обряд</text></g>
<g id="n281"><ellipse cx="1244" cy="2632" rx="45" ry="18"/><text x="1244" y="2637">благовоние</text></g>
<g id="n282"><ellipse cx="1244" cy="2671" rx="27" ry="18"/><text x="1244" y="2676">масло</text></g>
<g id="n283"><ellipse cx="1244" cy="2711" rx="53" ry="18"/><text x="1244" y="2716">христианский</text></g>
<g id="n284"><ellipse cx="1244" cy="2751" rx="27" ry="18"/><text x="1244" y="2756">ножка</text></g>
<g id="n285"><ellipse cx="1244" cy="2791" rx="29" ry="18"/><text x="1244" y="2796">тонкий</text></g>
<g id="n286"><ellipse cx="1244" cy="2831" rx="37" ry="18"/><text x="1244" y="2836">анисовка</text></g>
<g id="n287"><ellipse cx="1244" cy="2870" rx="33" ry="18"/><text x="1244" y="2875">бутылка</text></g>
<g id="n288"><ellipse cx="1244" cy="2910" rx="27" ry="18"/><text x="1244" y="2915">ие</text></g>
<g id="n289"><ellipse cx="1244" cy="2950" rx="37" ry="18"/><text x="1244" y="2955">лиановый</text></g>
<g id="n290"><ellipse cx="1244" cy="2990" rx="27" ry="18"/><text x="1244" y="2995">висок</text></g>
<g id="n291"><ellipse cx="1244" cy="3030" rx="27" ry="18"/><text x="1244" y="3035">идущ</text></g>
<g id="n292"><ellipse cx="1244" cy="3069" rx="27" ry="18"/><text x="1244" y="3074">южный</text></g>
<g id="n293"><ellipse cx="1244" cy="3109" rx="53" ry="18"/><text x="1244" y="3114">изготовление</text></g>
<g id="n294"><ellipse cx="1244" cy="3149" rx="49" ry="18"/><text x="1244" y="3154">винокурение</text></g>
<g id="n295"><ellipse cx="1244" cy="3188" rx="27" ry="18"/><text x="1244" y="3193">ягода</text></g>
<g id="n296"><ellipse cx="1244" cy="3229" rx="37" ry="18"/><text x="1244" y="3234">растение</text></g>
<g id="n297"><ellipse cx="1244" cy="3268" rx="41" ry="18"/><text x="1244" y="3273">небольшой</text></g>
<g id="n298"><ellipse cx="1244" cy="3308" rx="33" ry="18"/><text x="1244" y="3313">сладкий</text></g>
<g id="n299"><ellipse cx="1244" cy="3348" rx="41" ry="18"/><text x="1244" y="3353">спиртовой</text></g>
<g id="n300"><ellipse cx="1244" cy="3388" rx="37" ry="18"/><text x="1244" y="3393">вещество</text></g>
<g id="n301"><ellipse cx="1244" cy="3427" rx="37" ry="18"/><text x="1244" y="3432">экстракт</text></g>
<g id="n302"><ellipse cx="1244" cy="3467" rx="27" ry="18"/><text x="1244" y="3472">плод</text></g>
<g id="n303"><ellipse cx="1244" cy="3506" rx="33" ry="18"/><text x="1244" y="3511">спутник</text></g>
<g id="n304"><ellipse cx="1244" cy="3546" rx="33" ry="18"/><text x="1244" y="3551">человек</text></g>
<g id="n305"><ellipse cx="1244" cy="3586" rx="37" ry="18"/><text x="1244" y="3591">козлиный</text></g>
<g id="n306"><ellipse cx="1244" cy="3626" rx="27" ry="18"/><text x="1244" y="3631">рог</text></g>
<g id="n307"><ellipse cx="1244" cy="3665" rx="27" ry="18"/><text x="1244" y="3670">хвост</text></g>
<g id="n308"><ellipse cx="1244" cy="3705" rx="45" ry="18"/><text x="1244" y="3710">развратный</text></g>
<g id="n309"><ellipse cx="1244" cy="3745" rx="37" ry="18"/><text x="1244" y="3750">божество</text></g>
<g id="n310"><ellipse cx="1244" cy="3785" rx="37" ry="18"/><text x="1244" y="3790">существо</text></g>
<g id="n311"><ellipse cx="1244" cy="3823" rx="29" ry="18"/><text x="1244" y="3828">низкий</text></g>
<g id="n312"><ellipse cx="1244" cy="3864" rx="33" ry="18"/><text x="1244" y="3869">лукавый</text></g>
<g id="n313"><ellipse cx="1244" cy="3937" rx="29" ry="18"/><text x="1244" y="3942">старка</text></g>
<g id="n314"><ellipse cx="1244" cy="3977" rx="37" ry="18"/><text x="1244" y="3982">зубровка</text></g>
<g id="n315"><ellipse cx="1244" cy="4016" rx="29" ry="18"/><text x="1244" y="4021">сивуха</text></g>
<g id="n316"><ellipse cx="1244" cy="4056" rx="41" ry="18"/><text x="1244" y="4061">пол-литра</text></g>
<g id="n317"><ellipse cx="1244" cy="4096" rx="37" ry="18"/><text x="1244" y="4101">перцовка</text></g>
<g id="n318"><ellipse cx="1244" cy="4136" rx="27" ry="18"/><text x="1244" y="4141">джин</text></g>
<g id="n319"><ellipse cx="1244" cy="4266" rx="37" ry="18"/><text x="1244" y="4271">четверть</text></g>
<g id="n320"><ellipse cx="1244" cy="4306" rx="27" ry="18"/><text x="1244" y="4311">литр</text></g>
<g id="n321"><ellipse cx="1244" cy="4345" rx="49" ry="18"/><text x="1244" y="4350">четвертушка</text></g>
<g id="n322"><ellipse cx="1244" cy="4385" rx="33" ry="18"/><text x="1244" y="4390">емкость</text></g>
<g id="n323"><ellipse cx="1244" cy="4592" rx="27" ry="18"/><text x="1244" y="4597">сосуд</text></g>
<g id="n324"><ellipse cx="1244" cy="4688" rx="45" ry="18"/><text x="1244" y="4693">приготовить</text></g>
<g id="n325"><ellipse cx="1244" cy="4821" rx="27" ry="18"/><text x="1244" y="4826">трава</text></g>
<g id="n326"><ellipse cx="1244" cy="4962" rx="27" ry="18"/><text x="1244" y="4967">питье</text></g>
<g id="n327"><ellipse cx="1244" cy="5002" rx="27" ry="18" style="fill:#f00;stroke:#f00"/><text x="1244" y="5007">вино</text></g>
<g id="n328"><ellipse cx="1244" cy="6051" rx="29" ry="18"/><text x="1244" y="6056">настой</text></g>
<g id="n329"><ellipse cx="1244" cy="6222" rx="27" ry="18"/><text x="1244" y="6227">белый</text></g>
<g id="n330"><ellipse cx="1244" cy="6263" rx="41" ry="18"/><text x="1244" y="6268">подоплека</text></g>
<g id="n331"><ellipse cx="1244" cy="6303" rx="41" ry="18"/><text x="1244" y="6308">самоотвод</text></g>
<g id="n332"><ellipse cx="1244" cy="6342" rx="27" ry="18"/><text x="1244" y="6347">сок</text></g>
<g id="n333"><ellipse cx="1244" cy="6382" rx="37" ry="18"/><text x="1244" y="6387">яблочный</text></g>
<g id="n334"><ellipse cx="1244" cy="6422" rx="29" ry="18"/><text x="1244" y="6427">прогул</text></g>
<g id="n335"><ellipse cx="1244" cy="6462" rx="41" ry="18"/><text x="1244" y="6467">десертный</text></g>
<g id="n336"><ellipse cx="1244" cy="6502" rx="37" ry="18"/><text x="1244" y="6507">столовый</text></g>
<g id="n337"><ellipse cx="1244" cy="6541" rx="27" ry="18"/><text x="1244" y="6546">право</text></g>
<g id="n338"><ellipse cx="1244" cy="6581" rx="37" ry="18"/><text x="1244" y="6586">пряность</text></g>
<g id="n339"><ellipse cx="1244" cy="6620" rx="37" ry="18"/><text x="1244" y="6625">девиация</text></g>
<g id="n340"><ellipse cx="1244" cy="6660" rx="27" ry="18"/><text x="1244" y="6665">сахар</text></g>
<g id="n341"><ellipse cx="1244" cy="6700" rx="29" ry="18"/><text x="1244" y="6705">стимул</text></g>
<g id="n342"><ellipse cx="1244" cy="6740" rx="33" ry="18"/><text x="1244" y="6745">красный</text></g>
<g id="n343"><ellipse cx="1244" cy="6780" rx="49" ry="18"/><text x="1244" y="6785">виноградный</text></g>
<g id="n344"><ellipse cx="1244" cy="6819" rx="41" ry="18"/><text x="1244" y="6824">подоснова</text></g>
<g id="n345"><ellipse cx="1244" cy="6859" rx="33" ry="18"/><text x="1244" y="6864">двигать</text></g>
<g id="n346"><ellipse cx="1244" cy="6899" rx="27" ry="18"/><text x="1244" y="6904">сорт</text></g>
<g id="n347"><ellipse cx="1244" cy="6939" rx="45" ry="18"/><text x="1244" y="6944">обусловить</text></g>
<g id="n348"><ellipse cx="1244" cy="6979" rx="27" ry="18"/><text x="1244" y="6984">тайна</text></g>
<g id="n349"><ellipse cx="1244" cy="7018" rx="37" ry="18"/><text x="1244" y="7023">придирка</text></g>
<g id="n350"><ellipse cx="1244" cy="7058" rx="61" ry="18"/><text x="1244" y="7063">обстоятельство</text></g>
<g id="n351"><ellipse cx="1244" cy="7097" rx="45" ry="18"/><text x="1244" y="7102">прогульщик</text></g>
<g id="n352"><ellipse cx="1244" cy="7137" rx="45" ry="18"/><text x="1244" y="7142">спонтанный</text></g>
<g id="n353"><ellipse cx="1244" cy="7177" rx="29" ry="18"/><text x="1244" y="7182">данные</text></g>
<g id="n354"><ellipse cx="1244" cy="7216" rx="33" ry="18"/><text x="1244" y="7221">стереть</text></g>
<g id="n355"><ellipse cx="1244" cy="7256" rx="41" ry="18"/><text x="1244" y="7261">эмиграция</text></g>
<g id="n356"><ellipse cx="1244" cy="7296" rx="61" ry="18"/><text x="1244" y="7301">способствовать</text></g>
<g id="n357"><ellipse cx="1244" cy="7336" rx="41" ry="18"/><text x="1244" y="7341">причинить</text></g>
<g id="n358"><ellipse cx="1244" cy="7375" rx="41" ry="18"/><text x="1244" y="7380">приписать</text></g>
<g id="n359"><ellipse cx="1244" cy="7415" rx="57" ry="18"/><text x="1244" y="7420">происхождение</text></g>
<g id="n360"><ellipse cx="1244" cy="7455" rx="33" ry="18"/><text x="1244" y="7460">крепкий</text></g>
<g id="n361"><ellipse cx="1244" cy="7495" rx="49" ry="18"/><text x="1244" y="7500">виноградный</text></g>
<g id="n362"><ellipse cx="1244" cy="7535" rx="41" ry="18"/><text x="1244" y="7540">крепленый</text></g>
<g id="n363"><ellipse cx="1244" cy="7574" rx="45" ry="18"/><text x="1244" y="7579">кавказский</text></g>
<g id="n364"><ellipse cx="1244" cy="7614" rx="37" ry="18"/><text x="1244" y="7619">домашний</text></g>
<g id="n365"><ellipse cx="1244" cy="7654" rx="33" ry="18"/><text x="1244" y="7659">дешевый</text></g>
<g id="n366"><ellipse cx="1244" cy="7694" rx="70" ry="18"/><text x="1244" y="7699">плодовый-ягодный</text></g>
<g id="n367"><ellipse cx="1244" cy="7734" rx="53" ry="18"/><text x="1244" y="7739">производство</text></g>
<g id="n368"><ellipse cx="1244" cy="7773" rx="37" ry="18"/><text x="1244" y="7778">игристый</text></g>
<g id="n369"><ellipse cx="1244" cy="7813" rx="45" ry="18"/><text x="1244" y="7818">углекислый</text></g>
<g id="n370"><ellipse cx="1244" cy="7853" rx="37" ry="18"/><text x="1244" y="7858">насытить</text></g>
<g id="n371"><ellipse cx="1244" cy="7893" rx="27" ry="18"/><text x="1244" y="7898">газ</text></g>
<g id="n372"><ellipse cx="1244" cy="7932" rx="57" ry="18"/><text x="1244" y="7937">коллекционный</text></g>
<g id="n373"><ellipse cx="1244" cy="7971" rx="37" ry="18"/><text x="1244" y="7976">собрание</text></g>
<g id="n374"><ellipse cx="1463" cy="3978" rx="27" ry="18"/><text x="1463" y="3983">водка</text></g>
<g id="n375"><ellipse cx="1463" cy="4779" rx="37" ry="18"/><text x="1463" y="4784">пташечка</text></g>
<g id="n376"><ellipse cx="1463" cy="4852" rx="45" ry="18"/><text x="1463" y="4857">канареечка</text></g>
<g id="n377"><ellipse cx="1463" cy="6859" rx="33" ry="18"/><text x="1463" y="6864">причина</text></g>
<g id="n378"><ellipse cx="1544" cy="4922" rx="27" ry="18"/><text x="1544" y="4927">пища</text></g>
<g id="n379"><ellipse cx="1647" cy="3795" rx="45" ry="18"/><text x="1647" y="3800">невиновный</text></g>
<g id="n380"><ellipse cx="1647" cy="3835" rx="49" ry="18"/><text x="1647" y="3840">невменяемый</text></g>
<g id="n381"><ellipse cx="1647" cy="3874" rx="27" ry="18"/><text x="1647" y="3879">спирт</text></g>
<g id="n382"><ellipse cx="1647" cy="3914" rx="37" ry="18"/><text x="1647" y="3919">очистить</text></g>
<g id="n383"><ellipse cx="1647" cy="3954" rx="27" ry="18"/><text x="1647" y="3959">смесь</text></g>
<g id="n384"><ellipse cx="1647" cy="3994" rx="49" ry="18"/><text x="1647" y="3999">алкогольный</text></g>
<g id="n385"><ellipse cx="1647" cy="4034" rx="33" ry="18"/><text x="1647" y="4039">покрыть</text></g>
<g id="n386"><ellipse cx="1647" cy="4073" rx="37" ry="18"/><text x="1647" y="4078">сообщник</text></g>
<g id="n387"><ellipse cx="1647" cy="4113" rx="45" ry="18"/><text x="1647" y="4118">уголовщина</text></g>
<g id="n388"><ellipse cx="1647" cy="4153" rx="61" ry="18"/><text x="1647" y="4158">взяточничество</text></g>
<g id="n389"><ellipse cx="1647" cy="4192" rx="53" ry="18"/><text x="1647" y="4197">преступность</text></g>
<g id="n390"><ellipse cx="1647" cy="4232" rx="29" ry="18"/><text x="1647" y="4237">грешок</text></g>
<g id="n391"><ellipse cx="1647" cy="4271" rx="27" ry="18"/><text x="1647" y="4276">алиби</text></g>
<g id="n392"><ellipse cx="1647" cy="4311" rx="49" ry="18"/><text x="1647" y="4316">недонесение</text></g>
<g id="n393"><ellipse cx="1647" cy="4351" rx="61" ry="18"/><text x="1647" y="4356">укрывательство</text></g>
<g id="n394"><ellipse cx="1647" cy="4391" rx="41" ry="18"/><text x="1647" y="4396">уголовный</text></g>
<g id="n395"><ellipse cx="1647" cy="4431" rx="45" ry="18"/><text x="1647" y="4436">рецидивист</text></g>
<g id="n396"><ellipse cx="1647" cy="4470" rx="45" ry="18"/><text x="1647" y="4475">преступный</text></g>
<g id="n397"><ellipse cx="1647" cy="4510" rx="33" ry="18"/><text x="1647" y="4515">накрыть</text></g>
<g id="n398"><ellipse cx="1647" cy="4550" rx="49" ry="18"/><text x="1647" y="4555">прокуратура</text></g>
<g id="n399"><ellipse cx="1647" cy="4590" rx="53" ry="18"/><text x="1647" y="4595">криминальный</text></g>
<g id="n400"><ellipse cx="1647" cy="4630" rx="41" ry="18"/><text x="1647" y="4635">следствие</text></g>
<g id="n401"><ellipse cx="1647" cy="4669" rx="41" ry="18"/><text x="1647" y="4674">возмездие</text></g>
<g id="n402"><ellipse cx="1647" cy="4709" rx="61" ry="18"/><text x="1647" y="4714">криминалистика</text></g>
<g id="n403"><ellipse cx="1647" cy="4749" rx="29" ry="18"/><text x="1647" y="4754">допрос</text></g>
<g id="n404"><ellipse cx="1647" cy="4788" rx="41" ry="18"/><text x="1647" y="4793">застукать</text></g>
<g id="n405"><ellipse cx="1647" cy="4829" rx="37" ry="18"/><text x="1647" y="4834">детектив</text></g>
<g id="n406"><ellipse cx="1647" cy="4868" rx="49" ry="18"/><text x="1647" y="4873">потерпевший</text></g>
<g id="n407"><ellipse cx="1647" cy="4936" rx="33" ry="18"/><text x="1647" y="4941">напитки</text></g>
<g id="n408"><ellipse cx="1647" cy="5544" rx="27" ry="18"/><text x="1647" y="5549">вода</text></g>
<g id="n409"><ellipse cx="1647" cy="5584" rx="27" ry="18"/><text x="1647" y="5589">вина</text></g>
<g id="n410"><ellipse cx="1647" cy="5622" rx="33" ry="18"/><text x="1647" y="5627">элемент</text></g>
<g id="n411"><ellipse cx="1647" cy="5663" rx="45" ry="18"/><text x="1647" y="5668">прибегнуть</text></g>
<g id="n412"><ellipse cx="1647" cy="5703" rx="37" ry="18"/><text x="1647" y="5708">возвести</text></g>
<g id="n413"><ellipse cx="1647" cy="5743" rx="27" ry="18"/><text x="1647" y="5748">свет</text></g>
<g id="n414"><ellipse cx="1647" cy="5782" rx="29" ry="18"/><text x="1647" y="5787">работа</text></g>
<g id="n415"><ellipse cx="1647" cy="5821" rx="41" ry="18"/><text x="1647" y="5826">восходить</text></g>
<g id="n416"><ellipse cx="1647" cy="5862" rx="29" ry="18"/><text x="1647" y="5867">основа</text></g>
<g id="n417"><ellipse cx="1647" cy="5902" rx="27" ry="18"/><text x="1647" y="5907">пучок</text></g>
<g id="n418"><ellipse cx="1647" cy="5941" rx="53" ry="18"/><text x="1647" y="5946">противоречие</text></g>
<g id="n419"><ellipse cx="1647" cy="5981" rx="27" ry="18"/><text x="1647" y="5986">свеча</text></g>
<g id="n420"><ellipse cx="1647" cy="6020" rx="29" ry="18"/><text x="1647" y="6025">ссылка</text></g>
<g id="n421"><ellipse cx="1647" cy="6060" rx="33" ry="18"/><text x="1647" y="6065">собрать</text></g>
<g id="n422"><ellipse cx="1647" cy="6100" rx="33" ry="18"/><text x="1647" y="6105">пульсар</text></g>
<g id="n423"><ellipse cx="1647" cy="6140" rx="27" ry="18"/><text x="1647" y="6145">муза</text></g>
<g id="n424"><ellipse cx="1647" cy="6208" rx="41" ry="18"/><text x="1647" y="6213">хронограф</text></g>
<g id="n425"><ellipse cx="1647" cy="6247" rx="29" ry="18"/><text x="1647" y="6252">пассив</text></g>
<g id="n426"><ellipse cx="1647" cy="6287" rx="27" ry="18"/><text x="1647" y="6292">семя</text></g>
<g id="n427"><ellipse cx="1647" cy="6327" rx="27" ry="18"/><text x="1647" y="6332">рычаг</text></g>
<g id="n428"><ellipse cx="1647" cy="6366" rx="29" ry="18"/><text x="1647" y="6371">фактор</text></g>
<g id="n429"><ellipse cx="1647" cy="6406" rx="27" ry="18"/><text x="1647" y="6411">мотив</text></g>
<g id="n430"><ellipse cx="1647" cy="6446" rx="33" ry="18"/><text x="1647" y="6451">предлог</text></g>
<g id="n431"><ellipse cx="1647" cy="6486" rx="49" ry="18"/><text x="1647" y="6491">рационализм</text></g>
<g id="n432"><ellipse cx="1647" cy="6526" rx="41" ry="18"/><text x="1647" y="6531">основание</text></g>
<g id="n433"><ellipse cx="1647" cy="6565" rx="27" ry="18"/><text x="1647" y="6570">резон</text></g>
<g id="n434"><ellipse cx="1647" cy="6605" rx="27" ry="18"/><text x="1647" y="6610">исток</text></g>
<g id="n435"><ellipse cx="1647" cy="6645" rx="33" ry="18"/><text x="1647" y="6650">пружина</text></g>
<g id="n436"><ellipse cx="1647" cy="6685" rx="45" ry="18"/><text x="1647" y="6690">компиляция</text></g>
<g id="n437"><ellipse cx="1647" cy="6724" rx="41" ry="18"/><text x="1647" y="6729">рассадник</text></g>
<g id="n438"><ellipse cx="1647" cy="6764" rx="29" ry="18"/><text x="1647" y="6769">хозяин</text></g>
<g id="n439"><ellipse cx="1647" cy="6804" rx="27" ry="18"/><text x="1647" y="6809">орган</text></g>
<g id="n440"><ellipse cx="1647" cy="6844" rx="49" ry="18"/><text x="1647" y="6849">стереофония</text></g>
<g id="n441"><ellipse cx="1647" cy="6884" rx="29" ry="18"/><text x="1647" y="6889">секрет</text></g>
<g id="n442"><ellipse cx="1647" cy="6923" rx="45" ry="18"/><text x="1647" y="6928">позитивизм</text></g>
<g id="n443"><ellipse cx="1647" cy="6963" rx="45" ry="18"/><text x="1647" y="6968">корениться</text></g>
<g id="n444"><ellipse cx="1647" cy="7003" rx="27" ry="18"/><text x="1647" y="7008">очаг</text></g>
<g id="n445"><ellipse cx="1647" cy="7043" rx="41" ry="18"/><text x="1647" y="7048">освещение</text></g>
<g id="n446"><ellipse cx="1647" cy="7082" rx="29" ry="18"/><text x="1647" y="7087">корень</text></g>
<g id="n447"><ellipse cx="1647" cy="7121" rx="37" ry="18"/><text x="1647" y="7126">материал</text></g>
<g id="n448"><ellipse cx="1647" cy="7195" rx="57" ry="18"/><text x="1647" y="7200">месторождение</text></g>
<g id="n449"><ellipse cx="1647" cy="7235" rx="29" ry="18"/><text x="1647" y="7240">орудие</text></g>
<g id="n450"><ellipse cx="1647" cy="7275" rx="41" ry="18"/><text x="1647" y="7280">опереться</text></g>
<g id="n451"><ellipse cx="1647" cy="7314" rx="37" ry="18"/><text x="1647" y="7319">виновник</text></g>
<g id="n452"><ellipse cx="1647" cy="7354" rx="29" ry="18"/><text x="1647" y="7359">гнездо</text></g>
<g id="n453"><ellipse cx="1647" cy="7394" rx="37" ry="18"/><text x="1647" y="7399">действие</text></g>
<g id="n454"><ellipse cx="1647" cy="7434" rx="27" ry="18"/><text x="1647" y="7439">дебит</text></g>
<g id="n455"><ellipse cx="1647" cy="7473" rx="27" ry="18"/><text x="1647" y="7478">повод</text></g>
<g id="n456"><ellipse cx="1647" cy="7513" rx="29" ry="18"/><text x="1647" y="7518">гейзер</text></g>
<g id="n457"><ellipse cx="1647" cy="7553" rx="57" ry="18"/><text x="1647" y="7558">первоисточник</text></g>
<g id="n458"><ellipse cx="1647" cy="7593" rx="37" ry="18"/><text x="1647" y="7598">породить</text></g>
<g id="n459"><ellipse cx="1647" cy="7633" rx="53" ry="18"/><text x="1647" y="7638">первопричина</text></g>
<g id="n460"><ellipse cx="1647" cy="7672" rx="27" ry="18"/><text x="1647" y="7677">вкус</text></g>
<g id="n461"><ellipse cx="1647" cy="7712" rx="57" ry="18"/><text x="1647" y="7717">оплодотворить</text></g>
<g id="n462"><ellipse cx="1647" cy="7752" rx="70" ry="18"/><text x="1647" y="7757">источниковедение</text></g>
<g id="n463"><ellipse cx="1647" cy="7792" rx="37" ry="18"/><text x="1647" y="7797">прототип</text></g>
<g id="n464"><ellipse cx="1647" cy="7831" rx="27" ry="18"/><text x="1647" y="7836">сила</text></g>
<g id="n465"><ellipse cx="1647" cy="7870" rx="49" ry="18"/><text x="1647" y="7875">университет</text></g>
<g id="n466"><ellipse cx="1647" cy="7910" rx="29" ry="18"/><text x="1647" y="7915">фонарь</text></g>
<g id="n467"><ellipse cx="1647" cy="7950" rx="37" ry="18"/><text x="1647" y="7955">безводье</text></g>
<g id="n468"><ellipse cx="1815" cy="4470" rx="53" ry="18"/><text x="1815" y="4475">преступление</text></g>
<g id="n469"><ellipse cx="1815" cy="6764" rx="37" ry="18"/><text x="1815" y="6769">источник</text></g>
<g id="n470"><ellipse cx="1975" cy="4280" rx="61" ry="18"/><text x="1975" y="4285">правонарушение</text></g>
<g id="n471"><ellipse cx="1975" cy="4348" rx="65" ry="18"/><text x="1975" y="4353">злоупотребление</text></g>
<g id="n472"><ellipse cx="1982" cy="4388" rx="37" ry="18"/><text x="1982" y="4393">придрать</text></g>
<g id="n473"><ellipse cx="1982" cy="4428" rx="37" ry="18"/><text x="1982" y="4433">невинный</text></g>
<g id="n474"><ellipse cx="1982" cy="4501" rx="41" ry="18"/><text x="1982" y="4506">злодеяние</text></g>
<g id="n475"><ellipse cx="1982" cy="4576" rx="27" ry="18"/><text x="1982" y="4581">грех</text></g>
<g id="n476"><ellipse cx="1982" cy="5988" rx="29" ry="18"/><text x="1982" y="5993">водный</text></g>
<g id="n477"><ellipse cx="1982" cy="6506" rx="41" ry="18"/><text x="1982" y="6511">выходить</text></g>
<g id="n478"><ellipse cx="1982" cy="6546" rx="29" ry="18"/><text x="1982" y="6551">родник</text></g>
<g id="n479"><ellipse cx="1982" cy="6586" rx="27" ry="18"/><text x="1982" y="6591">ключ</text></g>
<g id="n480"><ellipse cx="1982" cy="6626" rx="37" ry="18"/><text x="1982" y="6631">документ</text></g>
<g id="n481"><ellipse cx="1982" cy="6665" rx="37" ry="18"/><text x="1982" y="6670">колыбель</text></g>
<g id="n482"><ellipse cx="1982" cy="6705" rx="33" ry="18"/><text x="1982" y="6710">научный</text></g>
<g id="n483"><ellipse cx="1982" cy="6745" rx="45" ry="18"/><text x="1982" y="6750">письменный</text></g>
<g id="n484"><ellipse cx="1982" cy="6785" rx="49" ry="18"/><text x="1982" y="6790">поверхность</text></g>
<g id="n485"><ellipse cx="1982" cy="6824" rx="29" ry="18"/><text x="1982" y="6829">давать</text></g>
<g id="n486"><ellipse cx="1982" cy="6864" rx="29" ry="18"/><text x="1982" y="6869">начало</text></g>
<g id="n487"><ellipse cx="1982" cy="6904" rx="37" ry="18"/><text x="1982" y="6909">исходить</text></g>
<g id="n488"><ellipse cx="1982" cy="6944" rx="53" ry="18"/><text x="1982" y="6949">исследование</text></g>
<g id="n489"><ellipse cx="1982" cy="6984" rx="27" ry="18"/><text x="1982" y="6989">земля</text></g>
<g id="n490"><ellipse cx="1982" cy="7023" rx="27" ry="18"/><text x="1982" y="7028">струя</text></g>
<g id="n491"><ellipse cx="1982" cy="7063" rx="37" ry="18"/><text x="1982" y="7068">памятник</text></g>
<g id="n492"><ellipse cx="1982" cy="7103" rx="41" ry="18"/><text x="1982" y="7108">строиться</text></g>
<g id="n493"><ellipse cx="2143" cy="4534" rx="50" ry="18"/></g>
<g id="n494"><ellipse cx="2438" cy="4600" rx="38" ry="18"/><text x="2438" y="4605">преступник</text></g>
<g id="n495"><ellipse cx="2297" cy="4405" rx="46" ry="18"/></g>
<g id="n496"><ellipse cx="2297" cy="4448" rx="36" ry="18"/></g>
<g id="n497"><ellipse cx="2297" cy="4522" rx="44" ry="18"/></g>
<g id="n498"><ellipse cx="2297" cy="4562" rx="40" ry="18"/></g>
<g id="n499"><ellipse cx="2297" cy="4600" rx="42" ry="18"/></g>
<g id="n500"><ellipse cx="2297" cy="4641" rx="40" ry="18"/></g>
<g id="n501"><ellipse cx="2297" cy="4680" rx="38" ry="18"/></g>
<g id="n502"><ellipse cx="2297" cy="4718" rx="40" ry="18"/></g>
<g id="n503"><ellipse cx="2297" cy="4758" rx="38" ry="18"/></g>
<g id="n504"><ellipse cx="2297" cy="4797" rx="46" ry="18"/></g>
<g id="n505"><ellipse cx="2297" cy="4837" rx="36" ry="18"/></g>
<g id="n506"><ellipse cx="2297" cy="4878" rx="44" ry="18"/></g>
<g id="n507"><ellipse cx="2297" cy="4918" rx="42" ry="18"/></g>
<g id="n508"><ellipse cx="2297" cy="4958" rx="36" ry="18"/></g>
<g id="n509"><ellipse cx="2297" cy="4999" rx="46" ry="18"/></g>
<g id="n510"><ellipse cx="2297" cy="5038" rx="42" ry="18"/></g>
<g id="n511"><ellipse cx="2568" cy="4543" rx="32" ry="18"/></g>
<g id="n512"><ellipse cx="2568" cy="4580" rx="42" ry="18"/></g>
<g id="n513"><ellipse cx="2568" cy="4620" rx="34" ry="18"/></g>
<g id="n514"><ellipse cx="2568" cy="4660" rx="40" ry="18"/></g>
<g id="n515"><ellipse cx="160" cy="3060" rx="34" ry="18"/></g>
<g id="n516"><ellipse cx="160" cy="3647" rx="36" ry="18"/></g>
<g id="n517"><ellipse cx="160" cy="4071" rx="32" ry="18"/></g>
<g id="n518"><ellipse cx="160" cy="4636" rx="34" ry="18"/></g>
<g id="n519"><ellipse cx="160" cy="6112" rx="36" ry="18"/></g>
<g id="n520"><ellipse cx="160" cy="6463" rx="28" ry="18"/></g>
<g id="n521"><ellipse cx="160" cy="7333" rx="36" ry="18"/></g>
<g id="n522"><ellipse cx="38" cy="4613" rx="35" ry="18"/></g>
<g id="n523"><ellipse cx="38" cy="4658" rx="38" ry="18"/></g>
<g id="n524"><ellipse cx="38" cy="6112" rx="38" ry="18"/></g>
<g id="n525"><ellipse cx="38" cy="7333" rx="38" ry="18"/></g>
<g id="n526"><ellipse cx="300" cy="2866" rx="38" ry="18"/></g>
<g id="n527"><ellipse cx="300" cy="2906" rx="44" ry="18"/></g>
<g id="n528"><ellipse cx="300" cy="2946" rx="32" ry="18"/></g>
<g id="n529"><ellipse cx="300" cy="2986" rx="48" ry="18"/></g>
<g id="n530"><ellipse cx="300" cy="3026" rx="36" ry="18"/></g>
<g id="n531"><ellipse cx="300" cy="3268" rx="40" ry="18"/></g>
<g id="n532"><ellipse cx="300" cy="3308" rx="34" ry="18"/></g>
<g id="n533"><ellipse cx="300" cy="3348" rx="46" ry="18"/></g>
<g id="n534"><ellipse cx="300" cy="3388" rx="38" ry="18"/></g>
<g id="n535"><ellipse cx="300" cy="3428" rx="30" ry="18"/></g>
<g id="n536"><ellipse cx="300" cy="3468" rx="44" ry="18"/></g>
<g id="n537"><ellipse cx="300" cy="3508" rx="36" ry="18"/></g>
<g id="n538"><ellipse cx="300" cy="3547" rx="48" ry="18"/></g>
<g id="n539"><ellipse cx="300" cy="3587" rx="32" ry="18"/></g>
<g id="n540"><ellipse cx="300" cy="3627" rx="42" ry="18"/></g>
<g id="n541"><ellipse cx="300" cy="3667" rx="38" ry="18"/></g>
<g id="n542"><ellipse cx="300" cy="3706" rx="36" ry="18"/></g>
<g id="n543"><ellipse cx="300" cy="3746" rx="44" ry="18"/></g>
<g id="n544"><ellipse cx="300" cy="3786" rx="30" ry="18"/></g>
<g id="n545"><ellipse cx="300" cy="3826" rx="40" ry="18"/></g>
<g id="n546"><ellipse cx="300" cy="3865" rx="46" ry="18"/></g>
<g id="n547"><ellipse cx="300" cy="3905" rx="34" ry="18"/></g>
<g id="n548"><ellipse cx="300" cy="3945" rx="38" ry="18"/></g>
<g id="n549"><ellipse cx="300" cy="4071" rx="40" ry="18"/></g>
<g id="n550"><ellipse cx="300" cy="4110" rx="36" ry="18"/></g>
<g id="n551"><ellipse cx="300" cy="4151" rx="44" ry="18"/></g>
<g id="n552"><ellipse cx="300" cy="4247" rx="38" ry="18"/></g>
<g id="n553"><ellipse cx="300" cy="4287" rx="44" ry="18"/></g>
<g id="n554"><ellipse cx="300" cy="4327" rx="32" ry="18"/></g>
<g id="n555"><ellipse cx="300" cy="4366" rx="48" ry="18"/></g>
<g id="n556"><ellipse cx="300" cy="4406" rx="36" ry="18"/></g>
<g id="n557"><ellipse cx="300" cy="4446" rx="40" ry="18"/></g>
<g id="n558"><ellipse cx="300" cy="4486" rx="30" ry="18"/></g>
<g id="n559"><ellipse cx="300" cy="4525" rx="46" ry="18"/></g>
<g id="n560"><ellipse cx="300" cy="4565" rx="34" ry="18"/></g>
<g id="n561"><ellipse cx="300" cy="4605" rx="42" ry="18"/></g>
<g id="n562"><ellipse cx="300" cy="4645" rx="38" ry="18"/></g>
<g id="n563"><ellipse cx="300" cy="4685" rx="44" ry="18"/></g>
<g id="n564"><ellipse cx="300" cy="4724" rx="32" ry="18"/></g>
<g id="n565"><ellipse cx="300" cy="4764" rx="48" ry="18"/></g>
<g id="n566"><ellipse cx="300" cy="4804" rx="36" ry="18"/></g>
<g id="n567"><ellipse cx="300" cy="4844" rx="40" ry="18"/></g>
<g id="n568"><ellipse cx="300" cy="4883" rx="30" ry="18"/></g>
<g id="n569"><ellipse cx="300" cy="4923" rx="46" ry="18"/></g>
<g id="n570"><ellipse cx="300" cy="4963" rx="34" ry="18"/></g>
<g id="n571"><ellipse cx="300" cy="5003" rx="42" ry="18"/></g>
<g id="n572"><ellipse cx="300" cy="5043" rx="38" ry="18"/></g>
<g id="n573"><ellipse cx="300" cy="5082" rx="44" ry="18"/></g>
<g id="n574"><ellipse cx="300" cy="5122" rx="32" ry="18"/></g>
<g id="n575"><ellipse cx="300" cy="5162" rx="48" ry="18"/></g>
<g id="n576"><ellipse cx="300" cy="5202" rx="36" ry="18"/></g>
<g id="n577"><ellipse cx="300" cy="5241" rx="40" ry="18"/></g>
<g id="n578"><ellipse cx="300" cy="5281" rx="30" ry="18"/></g>
<g id="n579"><ellipse cx="300" cy="5321" rx="46" ry="18"/></g>
<g id="n580"><ellipse cx="300" cy="5361" rx="34" ry="18"/></g>
<g id="n581"><ellipse cx="300" cy="5401" rx="42" ry="18"/></g>
<g id="n582"><ellipse cx="300" cy="5440" rx="38" ry="18"/></g>
<g id="n583"><ellipse cx="300" cy="5480" rx="44" ry="18"/></g>
<g id="n584"><ellipse cx="300" cy="5520" rx="32" ry="18"/></g>
<g id="n585"><ellipse cx="300" cy="5560" rx="48" ry="18"/></g>
<g id="n586"><ellipse cx="300" cy="5599" rx="36" ry="18"/></g>
<g id="n587"><ellipse cx="300" cy="5639" rx="40" ry="18"/></g>
<g id="n588"><ellipse cx="300" cy="5679" rx="30" ry="18"/></g>
<g id="n589"><ellipse cx="300" cy="5719" rx="46" ry="18"/></g>
<g id="n590"><ellipse cx="300" cy="5759" rx="34" ry="18"/></g>
<g id="n591"><ellipse cx="300" cy="5798" rx="42" ry="18"/></g>
<g id="n592"><ellipse cx="300" cy="5838" rx="38" ry="18"/></g>
<g id="n593"><ellipse cx="300" cy="5878" rx="44" ry="18"/></g>
<g id="n594"><ellipse cx="300" cy="5918" rx="32" ry="18"/></g>
<g id="n595"><ellipse cx="300" cy="5957" rx="48" ry="18"/></g>
<g id="n596"><ellipse cx="300" cy="5997" rx="36" ry="18"/></g>
<g id="n597"><ellipse cx="300" cy="6037" rx="40" ry="18"/></g>
<g id="n598"><ellipse cx="300" cy="6077" rx="30" ry="18"/></g>
<g id="n599"><ellipse cx="300" cy="6117" rx="46" ry="18"/></g>
<g id="n600"><ellipse cx="300" cy="6156" rx="34" ry="18"/></g>
<g id="n601"><ellipse cx="300" cy="6196" rx="42" ry="18"/></g>
<g id="n602"><ellipse cx="300" cy="6236" rx="38" ry="18"/></g>
<g id="n603"><ellipse cx="300" cy="6276" rx="44" ry="18"/></g>
<g id="n604"><ellipse cx="300" cy="6315" rx="32" ry="18"/></g>
<g id="n605"><ellipse cx="300" cy="6355" rx="48" ry="18"/></g>
<g id="n606"><ellipse cx="300" cy="6395" rx="36" ry="18"/></g>
<g id="n607"><ellipse cx="300" cy="7244" rx="40" ry="18"/></g>
<g id="n608"><ellipse cx="300" cy="7284" rx="34" ry="18"/></g>
<g id="n609"><ellipse cx="300" cy="7324" rx="44" ry="18"/></g>
<g id="n610"><ellipse cx="300" cy="7364" rx="38" ry="18"/></g>
<g id="n611"><ellipse cx="300" cy="7404" rx="30" ry="18"/></g>
<g id="n612"><ellipse cx="300" cy="7444" rx="46" ry="18"/></g>
<g id="n613"><ellipse cx="300" cy="7484" rx="36" ry="18"/></g>
</g>
</g>
</svg>
